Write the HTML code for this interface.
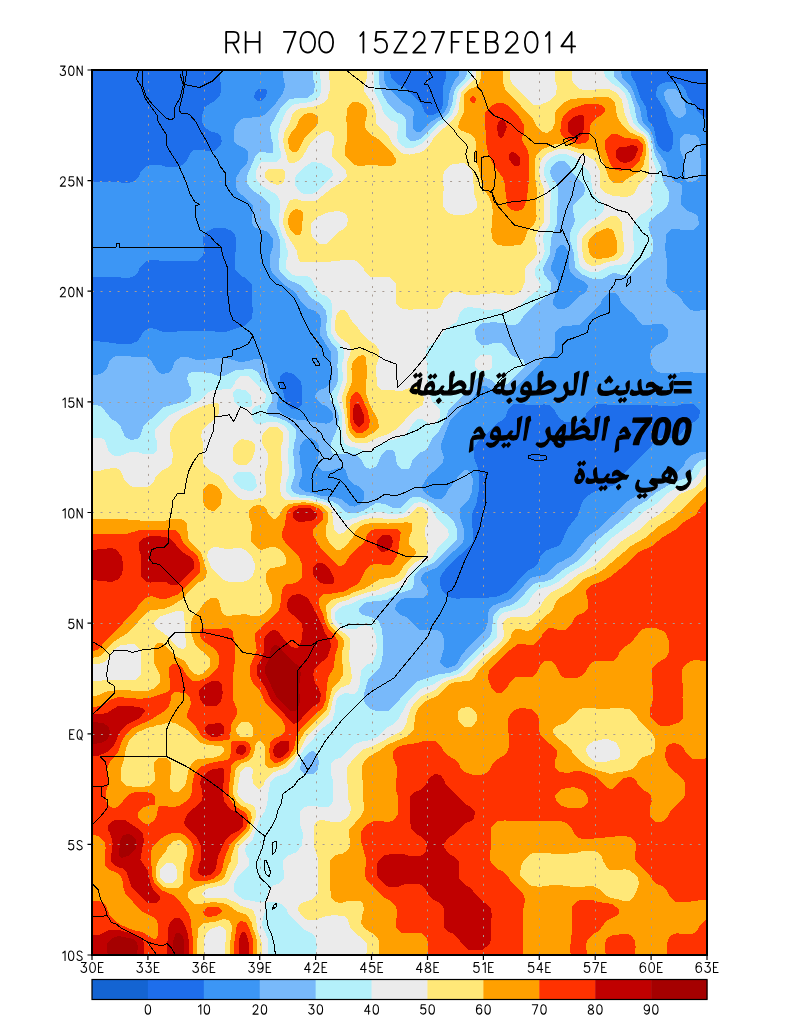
<!DOCTYPE html>
<html><head><meta charset="utf-8"><title>RH 700</title><style>
html,body{margin:0;padding:0;background:#fff;}
svg{display:block;}
path{vector-effect:non-scaling-stroke;}
</style></head><body>
<svg width="800" height="1024" viewBox="0 0 800 1024">
<rect width="800" height="1024" fill="#fff"/>
<g fill="none" stroke="#000" stroke-width="1.8" stroke-linejoin="round" stroke-linecap="round"><g vector-effect="non-scaling-stroke"><path transform="translate(226.15,31.90) scale(1.9762,2.0700)" d="M0,10 L0,0 L3.9,0 C5.4,0 6.3,1 6.3,2.6 C6.3,4.2 5.4,5.2 3.9,5.2 L0,5.2 M3.4,5.2 L6.3,10"/><path transform="translate(245.65,31.90) scale(1.9929,2.0700)" d="M0,0 L0,10 M7,0 L7,10 M0,4.8 L7,4.8"/><path transform="translate(283.90,31.90) scale(1.6714,2.0700)" d="M0,0 L7,0 L2.3,10"/><path transform="translate(300.40,31.90) scale(2.1000,2.0700)" d="M3.5,0 C1.2,0 0,2.2 0,5 C0,7.8 1.2,10 3.5,10 C5.8,10 7,7.8 7,5 C7,2.2 5.8,0 3.5,0 Z"/><path transform="translate(319.15,31.90) scale(1.9929,2.0700)" d="M3.5,0 C1.2,0 0,2.2 0,5 C0,7.8 1.2,10 3.5,10 C5.8,10 7,7.8 7,5 C7,2.2 5.8,0 3.5,0 Z"/><path transform="translate(359.65,31.90) scale(1.0500,2.0700)" d="M0.6,2 L2.2,1 L3.6,0 L3.6,10"/><path transform="translate(374.65,31.90) scale(1.7786,2.0700)" d="M6.3,0 L1,0 L0.5,4.3 C1.3,3.7 2.3,3.4 3.4,3.4 C5.5,3.4 7,4.9 7,6.8 C7,8.7 5.5,10 3.4,10 C1.9,10 0.7,9.4 0,8.4"/><path transform="translate(394.15,31.90) scale(1.9762,2.0700)" d="M0.2,0 L6.3,0 L0,10 L6.3,10"/><path transform="translate(412.90,31.90) scale(1.7786,2.0700)" d="M0.4,2.4 C0.7,0.9 1.9,0 3.5,0 C5.3,0 6.6,1.1 6.6,2.8 C6.6,4.2 5.8,5.1 4.4,6.2 L0.2,10 L7,10"/><path transform="translate(431.65,31.90) scale(1.7786,2.0700)" d="M0,0 L7,0 L2.3,10"/><path transform="translate(451.70,31.90) scale(1.9259,2.0700)" d="M5.4,0 L0,0 L0,10 M0,4.8 L3.6,4.8"/><path transform="translate(467.90,31.90) scale(1.8661,2.0700)" d="M5.6,0 L0,0 L0,10 L5.6,10 M0,4.8 L3.6,4.8"/><path transform="translate(485.90,31.90) scale(1.9590,2.0700)" d="M0,10 L0,0 L3.5,0 C5,0 5.8,0.9 5.8,2.4 C5.8,3.9 5,4.8 3.5,4.8 L0,4.8 M3.5,4.8 C5.1,4.8 6.1,5.8 6.1,7.4 C6.1,9 5.1,10 3.5,10 L0,10"/><path transform="translate(505.30,31.90) scale(1.8286,2.0700)" d="M0.4,2.4 C0.7,0.9 1.9,0 3.5,0 C5.3,0 6.6,1.1 6.6,2.8 C6.6,4.2 5.8,5.1 4.4,6.2 L0.2,10 L7,10"/><path transform="translate(524.90,31.90) scale(1.8143,2.0700)" d="M3.5,0 C1.2,0 0,2.2 0,5 C0,7.8 1.2,10 3.5,10 C5.8,10 7,7.8 7,5 C7,2.2 5.8,0 3.5,0 Z"/><path transform="translate(545.15,31.90) scale(1.1750,2.0700)" d="M0.6,2 L2.2,1 L3.6,0 L3.6,10"/><path transform="translate(561.40,31.90) scale(1.9571,2.0700)" d="M5.2,10 L5.2,0 L0,7 L7,7"/></g></g>
<defs><clipPath id="mc"><rect x="92" y="70" width="615" height="885"/></clipPath></defs>
<g clip-path="url(#mc)" shape-rendering="crispEdges">
<rect x="92" y="70" width="615" height="885" fill="#1e6eeb"/>
<path fill="#3c96f5" fill-rule="evenodd" d="M699,409 700,411 699,417 694,422 688,425 679,436 675,438 667,438 666,437 658,438 653,443 652,446 620,477 618,481 614,485 596,491 587,496 584,499 581,505 578,515 568,528 561,543 558,546 545,551 541,555 538,563 533,568 527,571 508,592 496,597 489,597 488,598 460,598 459,599 448,597 443,592 440,585 440,578 442,574 448,566 471,545 473,541 472,514 477,502 478,492 479,491 479,474 478,473 478,468 474,458 474,448 478,441 484,437 497,423 501,421 506,416 508,409 512,405 514,404 524,404 525,405 541,405 544,404 545,405 549,405 554,409 559,418 565,422 578,422 582,420 585,417 587,412 593,406 598,404 606,404 607,405 657,405 658,406 676,406 682,404 693,404ZM283,373 286,372 294,374 301,382 301,385 302,386 302,404 297,409 292,409 290,408 285,402 284,394 280,384 280,376ZM265,89 267,91 266,97 261,101 257,101 254,98 255,92 259,89ZM220,70 220,82 221,83 221,92 220,95 216,100 205,107 202,115 202,122 205,128 212,132 217,133 221,137 221,140 222,141 221,144 216,150 214,151 194,150 191,152 187,160 182,165 177,167 167,167 160,165 150,165 147,166 141,171 139,176 134,181 129,183 121,183 120,182 92,182 92,277 120,277 121,278 129,278 134,276 138,272 140,267 145,262 150,260 158,260 159,261 197,261 203,256 203,253 204,252 203,237 206,232 214,228 225,228 232,231 235,235 236,238 235,268 236,271 241,276 246,278 252,285 252,307 253,308 252,318 246,325 226,332 215,332 214,331 177,331 176,332 163,332 156,329 150,328 144,331 138,341 131,344 116,344 115,343 109,343 108,342 92,341 92,954 706,954 706,118 703,117 698,112 695,106 688,97 686,91 682,85 674,82 667,82 660,84 657,87 656,96 665,110 668,123 673,133 673,144 672,145 672,148 668,152 663,151 659,147 657,143 654,128 648,120 646,107 640,97 636,84 631,75 631,70 446,70 446,78 443,87 443,105 442,108 437,113 433,115 427,115 425,113 421,103 404,87 397,84 391,78 390,70Z"/>
<path fill="#78b9fa" fill-rule="evenodd" d="M305,439 311,438 317,442 319,446 318,466 322,471 330,471 338,468 343,468 346,471 349,480 353,484 358,486 363,490 364,492 364,499 361,504 354,507 353,506 350,506 341,499 334,497 321,496 313,493 306,492 299,487 299,483 302,476 302,469 301,468 299,451 300,450 300,446ZM560,245 564,245 568,251 569,254 569,268 571,273 575,277 583,281 588,286 587,290 583,294 578,297 568,307 564,309 558,309 553,305 553,300 558,289 558,281 551,270 551,266 555,256 556,250ZM685,134 683,135 680,139 680,150 684,160 685,180 688,182 692,182 697,180 701,174 700,142 699,139 695,135ZM668,89 666,90 664,93 665,99 674,115 676,117 680,118 684,116 686,113 685,103 680,93 675,89ZM283,70 283,78 284,79 285,87 283,93 274,106 264,115 260,117 244,118 240,120 236,125 234,131 234,141 236,144 246,149 248,152 248,160 247,163 240,171 236,178 236,187 238,192 246,198 253,206 252,223 254,227 268,232 273,239 273,247 270,255 270,267 273,274 283,284 292,290 297,295 301,302 307,308 315,311 320,316 321,319 320,335 331,352 331,363 330,366 332,373 332,379 331,382 325,388 318,391 316,393 315,397 321,404 326,406 332,412 333,414 333,419 331,422 325,424 324,423 317,423 316,422 306,421 305,420 298,420 288,417 282,414 277,408 278,396 277,395 277,392 269,378 267,365 266,363 261,359 254,359 249,361 240,362 226,358 215,358 214,359 207,359 206,360 197,360 187,357 181,357 175,361 172,369 168,373 162,374 157,371 151,360 146,357 116,356 113,357 110,360 107,368 102,373 96,375 92,375 92,954 706,954 706,452 700,452 691,455 686,460 684,465 679,471 664,481 647,489 625,503 616,513 610,517 597,530 588,536 577,550 570,557 561,562 557,563 548,573 544,575 533,577 528,580 520,590 510,599 492,606 490,608 488,613 488,621 485,631 469,646 461,656 458,662 454,666 447,668 444,667 440,662 444,648 444,639 442,634 439,631 436,630 420,630 418,629 408,618 399,614 395,610 396,604 402,599 405,598 423,598 427,595 428,591 427,588 422,582 421,579 422,575 424,573 436,568 451,553 456,550 463,542 464,539 464,529 460,517 460,509 469,499 472,492 473,479 470,472 467,470 464,470 458,476 457,479 448,490 446,494 441,499 435,499 426,494 423,491 422,486 429,475 436,470 443,462 444,457 441,448 441,444 450,421 452,418 474,397 477,391 482,386 486,386 496,392 501,392 502,393 510,392 514,390 518,385 536,368 542,360 550,356 554,352 555,350 555,333 556,331 563,326 571,326 572,325 579,325 581,324 587,317 600,305 603,298 609,293 615,293 619,297 622,304 628,310 634,314 638,321 642,325 662,324 667,328 668,330 668,336 667,338 663,342 655,346 652,349 650,354 651,364 656,371 661,373 679,373 680,372 706,373 706,310 694,311 689,309 684,304 681,298 676,294 673,293 668,288 666,282 666,279 667,278 667,259 666,258 666,252 665,251 666,235 667,233 672,229 679,229 680,230 693,230 695,229 699,224 698,217 695,214 686,210 682,206 681,204 682,186 679,183 675,182 670,177 667,170 666,163 656,149 653,136 650,130 644,124 642,120 640,108 636,100 634,93 631,87 622,77 621,70 459,70 459,75 455,80 451,88 449,95 448,105 445,111 439,117 429,123 427,126 420,132 416,132 413,128 413,116 414,115 414,112 412,108 404,103 387,87 384,80 384,70Z"/>
<path fill="#b4f0fa" fill-rule="evenodd" d="M313,751 316,753 318,757 318,760 319,761 318,769 317,771 313,774 305,774 303,773 300,769 301,763 306,755 309,752ZM92,405 92,954 706,954 706,459 699,461 695,465 691,473 686,478 674,482 657,492 646,501 636,507 622,520 595,542 586,553 576,562 563,570 552,579 543,582 539,582 532,585 518,601 511,605 499,609 495,613 493,617 492,631 490,636 467,659 459,669 450,673 440,674 418,681 410,688 390,710 387,711 376,711 369,708 366,705 364,701 364,694 368,680 370,677 379,669 382,661 382,656 383,655 383,636 382,635 382,629 379,622 377,620 371,617 363,615 359,612 359,609 363,604 367,602 387,600 397,594 412,589 414,584 414,577 416,573 420,569 433,563 456,541 457,539 457,529 454,522 451,518 432,503 420,497 413,497 409,499 401,508 393,508 385,504 376,503 363,511 356,513 348,513 343,510 340,506 332,501 329,501 312,496 300,495 294,493 292,491 291,486 295,475 293,449 294,448 294,443 296,438 296,430 292,425 286,421 276,417 270,416 267,414 267,410 272,401 272,394 268,387 263,382 258,372 252,369 236,370 224,376 218,376 211,373 206,373 205,372 192,372 189,373 187,378 189,385 191,388 191,396 183,402 164,407 160,410 153,418 148,421 144,425 140,436 137,439 131,440 125,437 120,425 115,421 112,420 102,407 97,405ZM614,70 467,70 467,74 465,78 457,86 454,92 452,105 449,112 441,120 436,123 420,139 415,141 410,141 406,137 406,120 405,118 401,114 396,112 389,105 383,95 379,83 379,70 313,70 313,78 315,84 314,93 307,98 294,98 293,99 290,99 288,100 280,109 270,127 270,132 271,133 271,137 273,143 273,152 272,153 259,152 256,155 247,176 247,183 252,190 264,198 270,205 270,218 277,231 280,241 280,257 279,258 279,268 280,271 287,279 300,285 307,292 310,297 321,304 326,311 326,315 327,316 326,331 327,332 327,335 331,342 337,349 338,352 338,363 337,364 337,368 338,369 338,381 336,386 330,395 330,399 336,407 339,416 338,427 331,443 331,450 333,454 345,454 346,453 355,454 361,459 365,467 370,469 375,467 377,465 382,454 387,450 392,450 395,453 397,465 401,469 408,469 410,467 413,459 419,453 424,451 428,447 433,437 439,431 445,420 449,409 462,397 468,390 472,383 476,379 481,377 484,377 491,380 497,385 502,386 507,384 523,369 525,366 524,360 515,357 510,354 506,347 501,343 493,343 488,345 482,345 480,344 476,339 475,331 476,328 480,324 483,323 496,322 497,323 503,323 509,325 515,325 519,323 525,314 534,305 543,299 549,293 551,289 551,283 544,274 543,268 550,254 551,238 557,224 558,188 556,183 552,178 550,172 552,166 555,163 559,161 564,161 569,165 573,174 583,183 585,188 585,191 583,196 580,198 573,206 573,213 574,214 575,221 570,233 570,240 574,254 575,267 581,274 593,279 602,279 613,273 616,273 621,275 629,275 631,274 643,261 650,257 653,251 653,240 648,227 649,226 649,223 655,216 664,210 667,206 669,201 669,192 663,181 661,167 655,155 651,138 649,134 639,124 636,117 635,108 630,94 627,89 615,78 614,76Z"/>
<path fill="#ebebeb" fill-rule="evenodd" d="M233,476 238,472 250,472 255,477 257,486 253,491 248,491 242,489 234,482ZM236,389 245,390 251,395 252,405 250,407 240,407 234,402 233,392ZM92,438 92,954 268,954 268,939 262,925 263,917 265,912 265,907 267,902 276,902 281,904 287,910 288,913 296,922 305,930 311,933 315,937 316,939 316,944 317,945 316,954 706,954 706,466 702,468 696,478 689,484 678,487 666,494 656,504 642,513 633,522 613,537 583,565 568,574 558,582 550,586 539,589 533,594 529,601 524,606 515,610 505,612 500,615 497,621 497,637 496,639 476,657 462,672 456,675 444,678 434,684 423,688 418,691 409,700 399,718 392,725 388,727 377,737 367,741 363,741 354,744 342,757 334,760 331,764 331,774 333,780 333,801 331,805 328,807 308,806 303,808 300,812 300,824 303,834 302,845 297,852 287,856 284,859 283,862 284,878 283,880 278,884 274,885 270,888 268,891 267,899 263,902 255,902 254,901 245,900 238,896 234,892 234,884 238,876 249,865 249,859 246,854 245,850 246,847 253,839 259,821 265,811 267,805 267,801 268,800 268,792 269,791 270,783 275,777 287,773 294,766 306,746 314,738 319,731 333,720 334,713 335,712 335,705 336,704 336,701 339,696 345,693 348,693 349,694 354,694 356,693 358,690 360,683 361,670 366,665 371,663 373,661 376,654 377,644 376,643 376,636 373,629 371,627 366,625 361,626 356,629 347,629 340,626 335,619 335,613 336,611 343,606 351,604 361,599 371,596 381,595 405,585 407,583 412,571 417,566 429,560 433,556 439,546 448,538 449,535 448,530 436,517 431,508 426,504 421,502 414,503 404,513 401,514 389,514 382,512 375,512 374,513 370,513 366,515 363,515 356,518 353,518 349,520 343,520 339,516 336,509 333,506 325,502 311,499 310,498 299,498 298,497 292,497 290,496 286,491 286,484 289,474 289,465 288,464 289,432 285,426 277,422 267,422 262,424 256,424 254,422 252,416 252,410 254,407 262,404 265,401 266,395 255,382 248,376 241,376 239,377 235,381 235,383 232,388 230,389 213,390 209,392 199,401 168,416 155,430 155,437 157,441 157,450 156,452 153,454 144,454 137,452 130,452 120,456 115,456 112,455 109,452 105,440 101,438ZM479,356 475,361 475,367 478,370 482,370 483,371 489,370 492,367 492,357 490,355 481,355ZM332,170 333,176 316,192 312,194 304,194 300,192 295,185 295,178 297,174 303,168 312,162 321,163ZM604,70 472,70 472,75 470,79 460,88 457,94 456,104 452,114 442,124 437,127 423,143 413,148 406,148 399,143 397,138 398,125 395,122 390,120 385,115 382,109 382,107 374,91 374,70 320,70 320,79 321,80 321,92 320,95 315,100 311,102 295,104 291,106 287,110 280,125 279,132 278,133 278,140 279,141 279,146 281,152 281,157 277,162 262,162 260,163 256,171 256,178 258,182 262,186 274,193 278,197 280,201 279,225 283,237 285,240 287,250 288,251 288,256 286,261 286,268 287,270 293,275 296,276 307,276 311,278 318,291 323,295 326,296 331,301 332,304 331,333 336,341 343,348 344,351 344,357 342,364 343,380 337,398 342,414 342,436 345,444 351,447 354,447 368,452 371,452 382,443 399,438 406,434 414,422 418,419 422,419 431,425 435,424 440,417 440,410 439,408 433,403 429,394 429,389 427,383 427,362 426,361 426,351 428,347 431,344 438,340 444,331 448,327 457,322 460,313 463,309 468,307 472,307 473,308 479,308 486,310 499,309 506,311 512,311 516,309 525,300 540,288 541,285 535,275 535,270 536,267 542,259 545,251 544,249 544,244 543,243 543,236 550,223 550,200 551,199 551,191 544,175 544,168 547,161 552,157 559,154 566,154 575,158 589,172 591,176 591,183 592,184 593,194 604,204 604,209 603,211 597,217 588,221 581,228 577,236 577,251 578,252 579,263 582,268 590,272 598,272 610,266 626,264 630,260 634,252 634,242 633,241 633,226 634,225 634,222 640,215 646,212 653,204 653,199 651,195 651,187 655,180 656,170 652,157 651,146 648,137 644,132 639,129 634,124 631,116 628,101 625,94 618,87 611,83 606,78 604,73Z"/>
<path fill="#ffe878" fill-rule="evenodd" d="M167,863 172,863 176,867 177,870 177,878 172,883 166,883 160,878 160,870 161,868ZM586,749 588,745 594,741 601,740 602,739 608,739 615,742 617,744 620,750 620,757 617,759 607,761 606,762 596,762 589,757 586,751ZM159,617 176,611 182,611 184,613 186,646 183,649 178,648 173,643 169,637 155,627 154,622ZM208,551 211,548 214,547 223,548 224,549 241,548 245,550 252,557 255,564 255,568 253,575 248,580 242,582 229,582 223,580 211,567 207,557ZM706,474 701,481 694,488 678,495 660,514 650,520 639,530 622,541 594,566 579,574 562,587 550,593 545,598 541,605 531,615 527,617 512,617 506,619 503,623 504,636 501,642 480,660 466,675 449,680 443,683 435,690 420,697 415,702 411,708 407,719 407,722 404,728 400,732 373,746 364,749 354,758 348,766 347,769 348,799 351,807 351,810 349,815 345,819 340,822 330,822 329,821 320,820 317,821 314,826 314,846 318,859 318,893 317,895 311,900 304,902 299,905 298,910 303,917 308,920 317,920 320,918 326,916 330,916 331,915 344,916 348,920 351,929 366,942 367,944 367,952 366,954 706,954ZM242,439 239,440 234,446 233,449 233,460 235,463 239,465 246,465 251,461 253,457 255,450 255,445 251,441ZM217,403 209,404 198,408 183,416 175,423 170,433 170,444 173,453 172,463 169,467 161,471 156,476 154,481 149,486 146,487 133,487 129,485 125,481 121,472 118,469 115,468 110,468 109,469 105,469 99,471 92,471 92,664 98,664 104,662 108,658 112,651 121,645 133,644 136,645 141,651 141,674 137,679 135,680 102,680 101,681 92,681 92,954 204,954 204,940 207,932 211,929 219,926 223,927 226,931 225,954 262,954 262,943 257,929 256,917 253,910 241,906 237,903 226,898 206,898 201,894 206,889 224,885 229,880 238,863 238,850 239,847 250,835 253,829 253,826 256,817 256,811 255,808 252,805 244,802 238,795 237,790 238,789 238,783 239,782 240,773 244,768 246,767 251,767 253,770 253,773 252,774 253,783 257,788 259,789 263,786 266,779 272,773 285,768 293,761 298,754 306,738 310,733 328,716 331,709 333,698 336,692 340,688 350,684 352,678 350,663 349,662 350,639 346,634 339,630 334,625 331,618 331,610 332,608 336,604 340,602 348,600 351,598 365,593 378,590 383,587 385,587 391,584 394,584 400,581 405,576 409,568 414,563 422,559 427,554 428,551 428,543 425,536 425,528 428,522 428,513 427,511 422,507 417,507 408,516 403,518 398,518 397,519 369,518 368,519 365,519 353,524 349,527 344,533 338,534 334,530 332,511 327,506 317,502 309,501 308,500 286,500 281,496 281,493 280,492 280,483 281,482 281,476 282,475 281,446 283,441 283,433 282,431 277,427 270,427 268,428 264,432 262,436 262,443 268,454 268,463 265,473 266,494 262,498 254,499 253,500 243,500 237,497 230,490 224,481 218,475 210,471 204,465 203,462 203,442 202,441 201,434 202,433 202,430 217,417 219,413 219,405ZM341,310 338,312 336,316 336,319 335,320 335,330 338,336 346,342 350,346 351,349 350,355 347,362 347,382 342,396 342,402 343,403 344,414 345,415 346,433 349,439 353,442 356,443 367,443 379,437 386,435 397,429 413,411 423,405 424,398 422,392 418,388 415,387 409,388 402,391 395,391 394,390 381,390 377,386 376,367 379,358 379,350 375,344 368,340 362,334 358,328 353,323 348,314 344,310ZM618,217 616,216 611,216 607,218 599,224 591,228 583,237 582,240 582,252 583,253 583,257 586,263 592,266 600,265 607,262 617,260 622,256 624,251 623,232 622,231 622,223ZM344,213 347,216 348,219 347,225 342,230 337,233 328,243 326,244 320,244 313,238 311,233 311,225 312,222 317,217 329,212 333,212 334,211 339,211ZM265,172 265,177 267,180 271,183 277,185 283,183 285,178 285,172 284,170 282,169 269,169ZM453,164 464,163 466,164 472,171 473,174 474,193 477,202 477,207 472,213 465,214 464,215 454,215 447,212 443,206 443,191 444,190 444,187 443,186 443,175 445,170 449,166ZM283,223 287,235 297,251 298,258 300,262 330,262 331,261 339,261 340,260 353,260 356,261 363,267 365,272 370,277 389,277 395,282 396,284 396,303 399,307 403,309 412,310 413,309 436,309 439,308 441,306 445,297 448,294 453,292 458,292 468,295 479,295 480,294 489,294 490,293 503,294 504,295 514,295 518,293 522,289 525,282 525,270 526,267 529,263 533,260 537,254 537,246 536,245 535,238 538,231 544,222 544,189 540,179 540,174 539,173 540,163 543,157 548,153 558,149 566,149 587,156 592,159 596,163 600,171 600,187 604,192 613,196 626,197 632,195 635,192 639,184 647,176 649,172 649,149 648,148 648,143 646,138 642,134 633,129 629,124 625,115 622,100 617,93 609,89 583,90 578,88 573,82 572,79 572,70 555,70 555,80 557,87 556,94 549,101 540,105 534,105 532,104 513,85 510,79 510,70 476,70 476,77 475,79 467,86 461,93 460,101 459,102 459,109 457,114 452,121 435,136 430,144 423,151 419,153 410,154 409,155 408,154 404,154 400,152 393,145 388,135 382,130 376,123 376,114 375,113 374,106 364,91 364,86 367,78 367,70 329,70 330,90 329,91 328,98 323,103 319,105 312,107 301,108 295,111 292,115 290,122 284,133 283,143 284,144 284,148 287,156 287,159 289,163 294,163 298,161 303,156 311,142 317,136 326,131 331,132 334,137 334,144 332,149 332,156 333,158 343,167 346,171 347,176 341,183 332,188 317,200 314,201 302,201 296,199 290,200 284,213Z"/>
<path fill="#ffa000" fill-rule="evenodd" d="M521,866 524,860 530,854 533,853 568,854 569,853 576,853 583,851 594,851 597,852 602,857 603,861 608,869 610,870 622,870 623,869 629,870 636,875 638,878 639,883 637,890 633,898 629,901 622,901 621,900 611,898 605,895 599,889 593,886 585,886 584,887 570,887 569,886 563,886 562,885 549,885 548,886 542,886 541,887 532,886 528,884 521,877 520,874ZM180,840 186,845 187,848 187,856 184,863 184,870 183,871 183,883 179,888 167,888 164,887 158,882 156,877 156,867 159,860 166,851 168,846 173,841ZM240,723 242,722 248,722 252,726 253,728 253,735 251,737 241,737 237,734 236,729ZM224,749 224,752 219,756 212,758 198,759 194,761 189,768 186,783 184,787 178,792 173,792 170,788 171,763 170,761 166,758 159,758 155,761 154,764 155,780 154,782 149,786 145,786 144,787 132,787 131,786 127,786 122,782 121,779 121,768 124,760 126,748 130,739 138,732 150,727 153,727 157,725 160,725 169,722 175,723 189,731 199,742 207,745 221,746ZM553,730 556,726 566,723 578,710 583,708 595,708 596,709 623,708 624,709 629,709 636,715 639,721 652,733 655,739 655,748 654,751 650,755 643,757 640,759 637,764 632,769 627,771 623,771 622,772 618,772 611,774 593,769 587,766 579,760 573,754 571,749 554,735ZM461,708 468,707 471,708 476,713 477,715 477,720 473,726 471,727 465,727 460,723 458,719 458,711ZM183,520 181,519 170,519 165,521 140,521 139,520 128,520 127,519 92,519 92,658 101,656 112,643 129,632 147,612 151,610 164,609 173,605 184,598 189,591 197,583 202,581 206,577 207,572 202,555 200,551 190,542 188,538 187,524ZM411,523 404,522 403,523 389,523 388,524 386,523 369,523 368,524 365,524 359,527 356,530 353,537 345,547 340,550 337,550 330,544 326,536 326,526 328,522 328,513 327,511 321,506 312,503 306,503 305,502 289,504 283,508 279,516 275,519 273,519 268,514 267,510 263,506 258,505 252,507 249,511 249,517 252,525 252,530 251,531 251,541 252,543 258,549 261,550 271,547 275,547 279,549 284,554 286,558 286,563 284,565 279,567 271,568 268,570 266,574 266,582 272,595 272,603 271,606 263,614 259,616 251,616 245,614 227,616 222,613 219,601 216,598 211,598 204,603 200,609 194,615 191,622 191,632 195,645 200,650 204,652 210,659 210,666 204,673 199,675 194,674 191,671 185,661 175,656 164,644 162,643 157,643 154,648 154,663 160,675 160,682 155,688 148,691 114,690 113,691 108,691 96,696 92,696 92,954 197,954 197,938 198,937 198,929 199,927 204,923 214,922 223,919 229,920 232,926 231,939 230,940 230,954 257,954 257,940 256,939 256,936 252,926 252,923 247,915 238,912 228,905 223,903 210,902 209,903 203,903 202,904 194,904 189,899 188,897 188,892 191,889 203,885 217,882 221,880 225,876 229,864 231,861 231,858 235,845 237,842 248,832 250,828 251,819 252,818 251,813 247,808 242,806 237,802 233,794 234,777 235,776 235,771 237,767 240,764 248,761 253,756 255,750 255,746 258,741 260,741 264,744 265,747 265,764 268,768 278,767 286,763 295,753 298,747 299,742 304,733 327,709 332,689 340,680 343,675 342,652 344,646 344,641 342,637 332,628 329,623 327,617 327,613 326,612 326,606 327,604 331,600 349,595 354,592 364,589 380,579 394,577 399,574 405,564 413,557 416,553 415,549 411,547 409,544 409,538 412,531 412,524ZM706,487 696,495 681,511 676,514 672,518 659,526 645,538 631,546 604,569 598,573 584,579 570,592 559,598 556,602 552,611 544,617 532,630 526,631 521,629 515,629 512,632 511,637 508,642 480,668 473,679 469,681 455,682 449,684 437,696 426,701 422,704 418,709 415,716 414,729 408,736 387,745 379,751 368,757 365,760 362,766 362,780 363,781 363,792 362,793 363,794 364,810 361,816 349,830 350,846 348,850 342,854 339,854 334,856 330,861 330,891 331,892 331,897 335,902 341,903 348,901 360,901 363,904 364,910 363,911 361,923 365,929 372,933 378,939 379,941 379,954 706,954ZM209,484 204,488 203,491 203,501 205,507 208,510 214,511 216,510 221,504 222,494 220,490 216,486 212,484ZM363,355 358,356 354,360 352,364 352,367 351,368 352,371 352,382 346,397 346,408 347,409 348,427 351,434 356,438 364,438 373,433 379,427 378,420 369,403 366,393 367,366 366,365 366,358ZM611,229 607,228 595,233 590,238 588,244 588,248 589,249 589,252 592,257 597,259 607,258 613,256 617,252 617,241 614,232ZM296,209 291,212 288,219 288,224 291,231 295,235 300,235 302,230 303,213 302,211ZM312,113 308,113 303,115 300,118 296,127 291,133 288,139 289,148 292,152 296,152 299,149 305,137 316,126 318,123 318,116ZM351,103 347,109 347,115 346,116 346,122 347,123 347,141 345,146 345,155 346,157 353,164 358,166 364,166 365,165 390,166 393,165 396,162 396,159 393,154 380,140 370,134 366,129 365,126 366,117 367,116 367,110 366,108 362,104 358,102 353,102ZM464,95 464,112 459,122 458,128 460,130 470,134 475,139 476,142 475,158 479,169 482,186 489,197 492,204 492,209 493,210 493,214 492,215 492,227 491,228 492,238 494,242 498,245 501,245 502,246 513,246 514,245 520,245 522,244 525,239 527,232 534,224 536,220 536,217 537,216 536,213 537,188 536,187 536,181 535,180 535,160 537,154 541,150 555,144 565,144 579,149 592,149 596,151 600,156 605,166 609,179 614,183 622,183 627,179 640,171 644,164 645,156 646,155 646,145 644,140 641,137 629,132 622,125 617,116 615,103 612,99 608,97 577,98 576,99 571,99 565,102 557,109 555,113 555,123 552,130 547,133 542,132 537,127 532,117 527,113 516,100 506,91 503,83 503,70 481,70 481,78 479,83 475,87 468,90Z"/>
<path fill="#ff3200" fill-rule="evenodd" d="M607,938 605,944 605,952 606,954 635,954 635,949 636,947 635,946 635,941 632,936 628,934 619,934 618,935 613,935ZM241,921 238,923 236,929 235,940 234,941 234,954 253,954 253,940 250,930 247,924 245,922ZM706,920 700,925 698,929 694,933 691,934 680,934 677,933 670,936 667,943 667,954 706,954ZM203,911 204,915 208,917 216,916 222,912 222,910 218,907 208,907ZM619,909 612,904 598,902 593,900 580,900 576,902 572,907 572,934 571,935 571,943 570,944 570,952 571,954 587,954 586,945 588,939 593,934 599,931 606,921 616,916 619,913ZM555,796 556,794 562,789 574,787 582,790 586,794 588,798 588,802 583,807 580,808 569,808 562,806 557,802ZM361,832 361,841 366,859 365,876 367,881 372,885 383,897 389,900 395,905 397,910 396,926 397,929 402,933 421,933 426,937 428,942 428,954 523,954 523,908 524,907 525,899 523,893 512,883 507,875 502,871 497,869 491,862 490,859 490,850 491,849 491,829 492,826 496,822 498,821 503,821 504,820 507,821 560,821 566,823 572,829 575,835 577,837 582,839 593,839 594,838 604,838 605,837 614,837 615,836 626,836 627,837 630,837 634,840 636,844 635,859 637,863 647,872 655,883 662,886 667,891 670,897 674,901 676,902 690,902 691,901 697,901 698,900 706,900 706,758 704,759 693,759 686,753 684,749 680,745 675,743 669,744 666,747 665,757 669,767 683,779 685,783 685,795 683,799 671,810 668,816 663,821 661,822 656,822 654,821 650,816 650,807 652,800 651,796 647,792 644,791 638,785 637,782 633,778 630,777 624,778 621,780 613,789 610,789 606,787 598,778 592,775 580,771 574,771 568,773 559,772 555,768 555,760 557,756 557,751 552,745 547,742 541,736 539,730 539,719 537,714 531,709 520,708 514,710 511,713 508,719 509,747 507,752 503,756 496,760 493,763 490,769 486,773 481,775 473,775 464,772 461,769 459,764 454,759 447,755 443,750 442,747 435,741 423,741 418,743 403,745 396,748 393,752 393,758 397,767 396,790 398,797 398,814 394,820 389,822 384,822 383,821 374,821 366,825ZM230,629 227,628 222,628 221,629 206,629 203,628 200,630 200,636 203,641 212,647 217,652 219,656 219,664 217,669 208,677 199,681 193,681 188,677 181,666 177,664 172,664 169,667 170,689 167,692 149,698 143,698 142,699 118,697 110,700 102,706 92,707 92,835 95,835 100,837 105,843 105,847 106,848 105,849 105,865 108,869 117,873 121,877 123,882 123,886 125,893 141,911 153,917 157,921 158,924 158,935 157,938 154,939 142,932 133,930 121,925 115,921 110,916 106,906 103,903 99,901 92,901 92,954 193,954 193,937 192,936 191,920 189,914 181,903 173,895 161,890 154,882 152,875 152,867 151,866 151,851 153,846 159,840 165,836 172,833 180,833 184,835 191,842 194,850 193,860 190,869 190,876 194,881 206,881 213,879 220,874 222,870 225,857 231,843 246,829 248,823 248,818 246,813 235,806 230,799 229,796 229,782 230,781 230,773 231,772 231,766 235,761 243,759 249,755 251,749 250,745 247,742 244,741 232,741 231,742 231,753 230,754 230,757 227,760 210,763 200,767 196,771 194,775 193,782 192,783 192,792 190,797 185,802 179,806 176,806 175,807 160,806 158,807 157,815 154,821 149,824 146,824 142,822 138,818 138,812 144,807 150,805 154,805 155,804 155,797 151,793 148,793 147,792 136,792 129,794 118,807 113,808 109,806 106,801 106,791 108,786 108,774 107,773 107,769 110,762 118,752 122,741 126,734 133,728 152,719 166,710 169,706 171,699 171,695 175,692 185,693 190,698 191,704 187,714 187,717 196,727 202,737 210,741 222,741 223,740 228,740 230,739 231,725 237,714 237,709 233,700 233,672 234,671 234,664 235,663 235,642 234,641 233,632ZM175,530 140,530 126,534 92,534 92,650 93,651 97,650 101,647 103,643 122,625 125,620 135,611 140,603 145,598 151,596 160,599 166,599 179,594 186,586 199,574 200,572 200,563 198,557 194,552 189,549 184,544 179,533ZM398,529 375,529 370,531 367,534 366,539 363,544 357,548 351,554 344,565 339,566 321,549 313,535 313,530 323,519 323,513 320,509 310,505 298,505 297,506 294,506 288,510 286,515 285,525 282,532 282,537 286,544 299,557 302,564 302,577 298,582 291,584 287,584 284,586 282,590 280,607 278,612 256,632 255,634 255,642 256,643 256,648 257,650 250,666 250,676 253,683 260,691 266,704 281,718 285,726 285,731 280,736 274,738 270,743 269,753 270,754 270,759 275,763 280,762 287,758 290,755 294,748 297,734 304,725 315,714 322,709 326,700 327,682 328,681 328,678 334,667 335,656 338,646 338,641 335,636 329,630 325,622 324,617 319,605 319,599 320,597 324,594 331,594 332,593 343,592 356,585 360,581 366,569 371,565 374,564 390,565 392,564 397,556 398,549 399,548 399,541 400,540 400,534 401,533ZM706,502 701,506 697,513 694,516 684,522 675,530 663,537 652,546 639,552 625,565 610,577 603,581 591,585 586,591 587,599 588,600 588,608 583,613 576,616 570,626 565,630 558,630 553,628 549,628 543,633 542,636 535,644 533,645 518,644 506,653 489,670 488,679 492,689 497,693 501,693 507,688 510,682 515,677 532,677 536,674 541,664 545,661 551,661 555,664 561,676 565,678 577,678 581,676 586,671 590,664 595,661 613,661 618,656 620,651 624,647 631,643 641,630 646,628 656,628 663,631 666,634 669,641 669,652 667,656 664,659 657,663 652,669 653,700 650,709 650,716 657,724 661,726 669,726 680,722 683,718 683,699 682,698 683,696 683,684 682,683 682,670 684,666 691,661 694,660 706,661ZM355,392 352,395 350,400 350,421 353,430 357,433 362,433 367,430 369,427 370,420 369,419 368,411 361,396 358,392ZM610,135 605,141 605,149 610,163 613,168 616,170 621,171 622,170 626,170 632,168 635,166 640,160 640,158 642,155 642,152 643,151 643,145 642,143 637,139 625,138 617,134 612,134ZM603,106 598,104 586,104 573,108 567,112 563,117 561,122 561,128 560,129 561,135 564,138 577,144 585,143 589,139 590,126 592,122 596,118 602,115 605,111 605,109ZM497,103 491,106 486,111 485,114 486,145 487,146 488,153 494,166 503,178 505,184 505,192 506,193 507,205 510,209 515,211 518,211 523,209 525,205 527,198 527,193 528,192 528,184 529,183 529,155 528,154 528,151 522,140 522,137 524,133 524,125 519,117 509,106 503,103ZM472,96 470,98 470,100 472,103 475,103 476,99 474,96Z"/>
<path fill="#c00000" fill-rule="evenodd" d="M242,932 239,939 239,954 249,954 249,943 248,942 248,939 246,934 244,932ZM92,935 92,954 143,954 144,953 144,943 143,941 139,937 133,934 119,930 109,930 99,935ZM174,918 171,921 168,928 167,954 189,954 189,940 188,939 188,935 186,928 183,922 179,918ZM111,822 108,826 108,830 110,833 112,839 112,843 113,844 112,846 112,852 111,853 111,861 114,865 120,868 122,868 127,873 131,886 146,902 148,903 156,903 160,900 160,897 153,889 150,882 148,871 140,859 141,858 141,853 142,852 143,843 144,842 143,834 137,828 125,820 115,820ZM435,774 429,778 426,784 420,790 414,792 411,795 410,798 410,824 411,825 411,828 417,835 420,836 425,840 427,844 426,851 422,855 419,856 409,856 404,854 389,854 388,855 385,855 383,856 378,862 377,865 377,875 380,880 384,884 389,887 398,887 405,884 419,884 421,885 426,890 429,896 432,899 438,902 443,907 444,909 444,927 447,931 454,934 467,949 469,950 482,950 489,945 491,940 491,918 492,917 491,909 487,904 483,902 476,895 471,888 465,885 460,880 459,878 459,862 455,857 449,854 444,847 444,844 448,838 456,833 464,824 471,821 474,818 475,812 471,807 465,804 459,797 445,784 445,782 441,775ZM222,768 213,769 207,772 202,777 200,783 202,790 202,795 203,796 202,797 202,800 198,805 190,811 187,815 184,822 185,826 197,838 201,846 201,860 199,864 198,872 200,875 203,876 210,875 214,872 216,868 218,856 225,841 230,835 238,831 243,826 243,818 240,814 230,809 224,801 224,798 223,797 224,770ZM240,745 237,747 236,752 237,754 242,755 246,752 246,747 243,745ZM288,741 281,741 274,746 273,752 275,757 279,758 282,757 287,753 289,750 289,742ZM205,728 206,733 212,737 217,737 222,735 224,733 224,726 220,723 209,724 207,725ZM144,709 139,707 134,707 133,706 118,706 107,713 104,713 103,714 92,714 92,756 98,756 107,752 114,745 121,730 126,725 140,718 145,711ZM219,681 212,681 204,685 200,689 199,692 200,699 205,706 216,706 221,702 223,692 222,691 222,685ZM300,594 292,595 289,598 287,604 287,607 289,612 296,617 302,624 303,631 302,632 302,639 300,645 297,648 291,647 285,641 278,631 273,630 269,632 265,637 264,640 264,652 262,658 257,666 257,675 265,687 271,700 274,704 284,713 287,718 294,724 300,721 305,714 312,707 318,704 320,701 321,694 318,687 315,683 313,673 314,672 314,669 320,663 326,659 328,656 331,646 330,640 325,633 323,627 316,613 314,611 314,609 308,598ZM317,563 314,566 313,569 313,574 315,578 319,582 324,584 332,584 334,583 334,578 330,570 324,564 322,563ZM117,550 112,548 92,550 92,580 112,582 119,579 122,574 122,571 123,570 123,562 122,561 122,557ZM142,539 139,543 139,550 141,555 141,575 142,578 146,582 149,582 150,583 152,582 166,582 171,585 177,585 193,570 194,568 194,562 192,558 181,551 171,539 166,537 161,537 160,536 150,536ZM389,535 383,535 381,536 377,541 377,547 378,549 382,552 388,551 392,546 393,541 392,538ZM293,512 293,518 296,521 299,522 310,521 313,520 317,516 317,513 310,508 299,508ZM355,404 353,409 353,418 355,424 358,427 360,427 364,422 364,415 360,406 358,404ZM511,152 509,154 509,159 514,166 518,166 520,164 520,158 516,153ZM637,146 631,145 625,147 619,147 616,150 616,157 620,162 626,163 631,161 635,157 638,150ZM503,120 500,120 499,121 497,127 498,135 499,137 501,138 503,137 507,127 505,121ZM582,115 579,115 572,118 568,123 568,131 571,135 575,137 580,137 583,133 583,130 584,129 584,117Z"/>
<path fill="#a50000" fill-rule="evenodd" d="M107,944 107,952 108,954 137,954 138,946 137,943 133,939 119,936 112,938ZM176,933 173,941 173,954 184,954 184,940 183,937 180,933ZM129,834 123,835 120,841 119,855 120,857 122,858 130,855 136,848 136,840 133,836ZM92,722 92,744 101,743 105,741 108,738 110,733 109,727 103,723ZM274,645 271,649 269,659 265,667 265,673 277,698 291,711 295,711 298,708 300,701 300,695 299,694 299,683 300,682 300,676 301,675 300,668 298,665 293,662 285,654 279,646Z"/>
</g>
<path stroke="#a89c94" stroke-width="1" stroke-dasharray="2 6.54" stroke-dashoffset="-2.5" fill="none" d="M148.5,70V955M204.5,70V955M260.5,70V955M316.5,70V955M372.5,70V955M427.5,70V955M483.5,70V955M539.5,70V955M595.5,70V955M651.5,70V955"/><g stroke="#a89c94" stroke-width="1" stroke-dasharray="2 6.54" fill="none"><path stroke-dashoffset="0.6" d="M92,181.5H707"/><path stroke-dashoffset="0" d="M92,291.5H707"/><path stroke-dashoffset="0" d="M92,402.5H707"/><path stroke-dashoffset="0" d="M92,512.5H707"/><path stroke-dashoffset="0" d="M92,623.5H707"/><path stroke-dashoffset="-0.4" d="M92,734.5H707"/><path stroke-dashoffset="0" d="M92,844.5H707"/></g>
<g clip-path="url(#mc)" fill="none" stroke="#000" stroke-width="1" stroke-linejoin="round" shape-rendering="crispEdges">
<path d="M139.0,70.0 136.4,79.0 141.0,86.0 145.0,98.0 151.6,107.6 158.0,116.4 157.6,120.4 162.0,128.0 166.0,134.0 166.0,144.0 169.0,150.0 178.0,164.0 186.0,182.0 190.0,194.0 195.0,202.0 200.0,204.4 195.0,206.0 196.0,218.0 200.0,230.0 210.0,236.0 215.0,242.0 221.0,247.0 223.0,256.0 226.0,264.0 228.0,269.0 227.0,280.0 228.0,296.0 230.0,312.0 233.0,320.0 238.0,323.0 244.0,328.0 250.0,332.0 253.0,336.0 256.0,344.0 259.0,352.0 262.0,360.0 264.0,368.0 266.0,378.0 269.0,388.0 272.0,394.0 276.0,392.0 279.0,396.0 282.0,400.0 288.0,404.0 296.0,408.0 300.0,410.0 304.0,414.0 307.0,419.0 310.0,424.0 313.0,427.0 316.0,428.0 318.5,431.0 321.0,433.0 322.0,435.0 323.5,439.0 326.0,442.0 329.0,445.0 332.0,448.0 334.0,450.0 336.0,452.0 337.0,454.0 339.0,458.0 342.0,462.0 343.0,466.0 341.0,469.0 338.0,470.0 333.0,473.0 330.0,474.0 328.0,478.0 332.5,477.5 340.0,480.0 345.0,485.0 350.0,492.5 357.5,502.5 367.5,502.5 377.5,499.0 385.0,494.0 395.0,496.0 405.0,492.5 415.0,487.5 425.0,487.5 435.0,484.0 445.0,485.0 455.0,481.0 465.0,476.0 475.0,470.0 487.5,472.5 485.0,482.5 486.0,502.5 482.5,515.0 480.0,527.5 475.0,540.0 470.0,550.0 465.0,560.0 460.0,572.5 455.0,585.0 452.0,590.0 448.0,592.0 446.0,602.0 440.0,614.0 432.0,626.0 428.0,636.0 420.0,646.0 412.0,656.0 402.0,668.0 394.0,678.0 384.0,684.0 374.0,690.0 366.0,696.0 358.0,704.0 352.0,710.0 342.0,720.0 334.0,730.0 326.0,740.0 320.0,750.0 316.0,756.0 312.0,764.0 308.0,770.0 304.0,776.0 298.0,780.0 294.0,786.0 288.0,790.0 283.0,794.0 281.0,804.0 278.0,810.0 276.0,818.0 272.0,826.0 268.0,832.0 265.0,836.5 263.4,843.0 261.8,849.5 258.5,857.6 256.0,864.0 257.7,872.3 260.2,878.0 266.7,883.7 270.7,888.5 268.3,895.0 265.9,901.5 265.9,908.0 266.7,917.8 268.3,927.6 271.5,934.0 274.0,943.8 275.6,956.0"/>
<path d="M142.0,70.0 143.0,78.0 142.0,84.0 146.0,96.0 152.0,104.0 160.0,112.0 166.0,118.0 171.0,120.0 174.0,118.0 175.0,107.0 180.0,98.0 184.0,82.0 182.0,70.0"/>
<path d="M187.0,70.0 185.0,82.0 183.0,94.0 179.0,110.0 181.0,113.0 186.0,113.0 190.0,115.0 196.0,122.0 200.0,130.0 207.0,142.0 213.0,154.0 217.0,159.0 220.0,166.0 226.0,174.0 225.0,184.0 230.0,192.0 234.0,197.0 242.0,201.0 248.0,204.0 254.0,214.0 256.0,222.0 260.0,230.0 262.0,238.0 260.0,246.0 261.0,254.0 263.0,264.0 266.0,270.0 270.0,278.0 276.0,284.0 282.0,286.0 288.0,292.0 294.0,298.0 298.0,306.0 302.0,316.0 306.0,324.0 310.0,332.0 316.0,340.0 322.0,348.0 324.0,356.0 330.0,362.0 332.0,370.0 330.0,380.0 329.0,390.0 332.0,398.0 333.0,404.0 335.0,410.0 336.0,418.0 337.0,425.0 339.0,427.0 340.0,430.0 340.0,435.0 340.0,442.0 342.0,447.0 344.0,452.0 348.0,453.0 352.0,455.0 356.0,455.0 360.0,453.0 364.0,451.0 369.0,452.0 372.0,451.0 374.0,448.0 378.0,446.0 380.0,445.0 392.5,437.5 405.0,435.0 417.5,430.0 425.0,425.0 437.5,422.5 447.5,417.5 457.5,407.5 470.0,402.5 480.0,395.0 492.5,390.0 500.0,380.0 507.5,372.5 515.0,367.5 525.0,365.0 535.0,360.0 545.0,357.5 557.5,357.5 562.5,352.5 562.5,345.0 567.5,340.0 575.0,337.5 587.5,332.5 589.0,325.0 592.5,320.0 600.0,316.0 610.0,312.5 609.0,300.0 610.0,290.0 614.0,285.0 616.0,279.0 620.0,280.0 625.0,277.5 630.0,270.0 635.0,262.5 640.0,257.5 645.0,247.5 649.0,240.0 647.5,236.0 642.5,232.5 638.0,226.0 635.0,222.5 627.5,212.5 617.5,210.0 606.5,205.0 598.0,202.0 592.0,196.5 588.0,188.0 583.5,179.2 582.0,168.0 585.0,160.0 583.5,153.4 580.6,156.2 574.9,167.8 566.2,176.4 557.6,185.0 546.1,193.6 534.6,199.4 523.0,200.8 508.8,202.2 499.0,204.8 494.4,202.2 491.5,190.8 490.2,192.5 488.5,190.8 483.2,190.8 479.8,185.5 478.0,178.5 474.5,171.5 469.2,166.2 467.5,161.0 465.8,154.0 467.5,147.0 465.8,143.5 462.2,140.0 457.0,134.8 453.5,129.5 450.0,126.0 446.5,122.5 443.0,119.0 437.8,108.5 434.2,99.8 430.8,91.0 428.1,84.9 423.8,84.0 427.2,80.5 432.5,77.0 430.8,73.5 428.0,70.0"/>
<path d="M483.2,190.8 481.5,175.0 481.5,157.5 488.5,155.8 493.8,161.0 495.5,175.0 493.8,189.0 491.5,190.8"/>
<path d="M467.5,70.0 476.2,80.5 478.0,87.5 481.5,91.0 485.0,99.8 488.5,110.2 493.8,115.5 502.5,119.0 511.2,124.2 517.4,130.4 526.0,136.1 534.6,143.3 546.1,143.3 554.8,147.6 563.4,143.3 572.0,139.0 580.6,133.2 589.2,133.2 595.0,139.0 597.9,150.5 600.8,162.0 606.5,167.8 623.8,169.2 630.0,169.6 633.5,172.0 641.7,170.8 648.8,173.1 658.1,173.7 659.3,171.4 661.6,172.0 662.8,175.5 671.0,176.6 676.9,179.0 680.4,176.6 683.9,179.0 688.6,177.8 694.5,176.6 700.3,175.5 707.0,176.0"/>
<path d="M563.0,140.0 570.0,137.0 578.0,137.0 575.0,142.0 566.0,146.0 563.0,140.0"/>
<path d="M668.7,70.0 667.5,73.5 669.8,75.9 694.5,82.9 707.0,83.5"/>
<path d="M669.8,75.9 674.5,81.7 678.0,87.6 680.4,93.4 681.6,97.0 687.4,102.8 695.6,105.2 698.0,108.7 703.2,109.8 703.8,116.9 704.4,122.7 703.8,131.0 707.0,132.0"/>
<path d="M707.0,143.8 695.6,146.2 692.1,150.9 686.2,153.2 685.1,159.0 683.9,163.8 682.7,175.5 683.9,179.0"/>
<path d="M180.0,74.5 183.2,84.2 199.5,87.5 212.5,81.0 222.2,71.2 228.8,70.0"/>
<path d="M345.8,70.0 368.5,87.5 407.5,90.8 416.8,92.8 421.0,101.5 432.5,103.2"/>
<path d="M411.5,70.0 406.2,80.5 401.0,89.2"/>
<path d="M92.0,247.0 116.0,247.0 117.0,243.0 119.0,243.0 119.0,247.0 221.0,247.0"/>
<path d="M340.0,347.0 350.0,350.0 360.0,347.5 375.0,354.0 385.0,360.0 396.0,364.0 397.5,387.5 412.5,372.5 425.0,357.5 442.5,330.0 472.0,322.0 502.5,313.8"/>
<path d="M491.5,190.8 497.0,205.0 514.5,225.2 537.5,231.0 560.0,232.5"/>
<path d="M582.0,168.0 575.0,182.0 572.0,196.0 566.0,210.0 562.0,225.0 560.0,232.5"/>
<path d="M502.5,313.8 530.0,302.0 557.5,291.2 564.0,270.0 570.0,247.5 562.5,230.0 560.0,232.5"/>
<path d="M502.5,313.8 507.5,330.0 515.0,350.0 522.5,365.0"/>
<path d="M626.0,287.0 628.0,279.0 631.0,276.0 630.0,283.0 626.0,287.0"/>
<path d="M528.0,456.0 534.0,454.0 540.0,455.0 546.0,456.0 547.0,459.0 541.0,461.0 534.0,460.0 528.0,458.0 528.0,456.0"/>
<path d="M253.0,336.0 248.0,344.0 240.0,348.0 233.0,350.0 232.0,356.0 223.0,358.0 222.0,364.0 220.0,380.0 216.0,390.0 213.5,399.0 214.6,417.0 213.5,430.5 209.0,441.8 205.6,451.9 198.9,454.1 193.2,462.0 188.8,471.0 186.5,480.0 184.2,493.5 177.5,493.5 173.0,500.2 171.9,509.2 169.6,520.5 168.5,534.0 168.5,543.0 164.0,547.5 157.2,547.5 151.6,549.8 149.4,558.8 152.8,563.2 159.5,564.4 166.2,571.5 175.2,580.5 182.0,587.2 184.2,598.5 188.8,609.8 195.5,614.2 200.0,616.5 202.2,623.2 202.2,632.2"/>
<path d="M214.6,417.0 222.5,415.9 229.2,414.8 233.8,421.5 240.5,406.9 247.2,410.2 251.8,414.8 260.8,411.4 266.0,413.0 280.0,414.0 288.0,418.0 294.0,422.0 300.0,429.0 303.0,433.0 307.0,437.0 311.0,441.0 314.0,445.0 316.0,449.0 320.0,452.0 322.0,456.0 324.0,458.0 327.0,458.0 330.0,460.0 332.0,457.0 334.5,454.5 337.0,454.0"/>
<path d="M324.0,458.0 318.8,462.5 315.0,468.8 312.5,473.8 311.9,478.8 312.5,482.5 312.5,491.2 317.5,491.2 322.5,490.0 327.5,488.8 331.2,490.0 332.5,492.5"/>
<path d="M340.0,481.0 336.0,487.0 332.5,492.5"/>
<path d="M332.5,492.5 328.8,497.5 328.8,501.2 332.5,507.5 340.0,517.5 347.5,527.5 355.0,535.0 365.0,540.0 377.5,545.0 390.0,550.0 405.0,556.0 427.5,557.0 417.5,567.5 407.5,577.5 400.0,590.0 390.0,602.0 380.0,614.0 372.0,624.0 364.0,625.0 350.0,624.0 340.0,628.0 336.0,632.0 332.0,638.0 322.0,640.0 318.0,641.0"/>
<path d="M202.2,632.2 218.0,635.6 231.5,639.0 242.8,652.5 252.0,654.0 258.5,654.8 270.0,658.0 278.0,650.0 292.0,640.0 300.0,646.0 312.0,645.0 318.0,641.0"/>
<path d="M318.0,641.0 314.0,646.0 308.0,658.0 298.0,670.0 297.4,690.0 297.4,753.0 308.0,770.0"/>
<path d="M202.2,632.2 175.2,632.2 168.5,639.0 166.2,643.5 159.5,648.0 150.5,649.1 140.4,650.2 132.5,652.5 125.8,650.2 114.5,650.2 110.0,654.8 103.2,648.0 92.0,641.2"/>
<path d="M168.5,639.0 168.5,643.5 173.0,650.2 175.2,659.2 179.8,668.2 182.0,677.2 184.2,688.5 183.1,701.2 177.5,708.0 170.8,719.2 166.2,730.5 166.2,744.0 166.2,756.4"/>
<path d="M110.0,654.8 107.8,666.0 106.6,675.0 107.8,681.8 114.5,686.2 114.5,693.0 110.0,697.5 101.0,706.5 94.2,713.0 92.0,715.0"/>
<path d="M166.2,756.4 99.9,756.4"/>
<path d="M166.2,756.4 186.5,766.5 204.5,777.8 220.2,789.0 233.8,800.2 236.0,811.5 249.5,822.8 257.0,830.0 265.2,836.2"/>
<path d="M99.9,756.4 105.5,762.0 107.8,775.5 108.9,784.5 101.0,786.8 92.0,786.8"/>
<path d="M101.0,786.8 101.0,795.8 107.8,800.2 107.8,807.0 101.0,816.0 96.5,820.5 92.0,825.0"/>
<path d="M92.0,883.5 98.0,889.5 101.0,900.0 105.5,909.0 107.0,915.0 111.5,922.5 116.0,924.0 122.0,928.5 128.0,931.5 134.0,934.5 140.0,937.5 147.5,942.0 152.0,943.5 158.0,945.0 162.5,945.8 167.0,943.5 171.5,948.0 176.0,956.0"/>
<path d="M92.0,917.0 107.0,915.8"/>
<path d="M147.5,942.0 150.5,946.5 155.0,952.5 156.5,956.0"/>
<path d="M272.5,843.0 276.0,841.0 277.0,846.0 275.0,852.0 272.5,854.0 272.5,848.0 272.5,843.0"/>
<path d="M264.0,861.0 266.0,860.0 268.5,866.0 270.5,872.0 269.5,877.0 266.0,874.0 264.0,868.0 264.0,861.0"/>
<path d="M272.0,910.0 274.0,905.0 277.0,903.0 276.0,907.0 272.0,910.0"/>
<path d="M278.0,382.0 283.0,382.0 286.0,388.0 280.0,388.0 278.0,382.0"/>
<path d="M312.0,359.0 316.0,358.0 320.0,365.0 316.0,366.0 312.0,359.0"/>
<path d="M474.0,152.5 476.0,151.5 477.0,156.0 476.3,162.5 474.5,161.0 474.0,152.5"/>
</g>
<rect x="92" y="70" width="615" height="885" fill="none" stroke="#000" stroke-width="2"/>
<path stroke="#000" stroke-width="1.2" fill="none" d="M87.5,70.0H92M87.5,180.6H92M87.5,291.2H92M87.5,401.9H92M87.5,512.5H92M87.5,623.1H92M87.5,733.8H92M87.5,844.4H92M87.5,955.0H92M92.0,955V960M147.9,955V960M203.8,955V960M259.7,955V960M315.6,955V960M371.5,955V960M427.5,955V960M483.4,955V960M539.3,955V960M595.2,955V960M651.1,955V960M707.0,955V960"/>
<g fill="none" stroke="#000" stroke-width="1.05" stroke-linejoin="round" stroke-linecap="round"><path transform="translate(60.12,66.10) scale(0.7708,0.9400)" d="M0.6,0 L6.5,0 L3,4.1 C5.5,4.1 7,5.3 7,7.1 C7,8.9 5.5,10 3.4,10 C1.8,10 0.7,9.4 0,8.3"/><path transform="translate(68.62,66.10) scale(0.7708,0.9400)" d="M3.5,0 C1.2,0 0,2.2 0,5 C0,7.8 1.2,10 3.5,10 C5.8,10 7,7.8 7,5 C7,2.2 5.8,0 3.5,0 Z"/><path transform="translate(77.11,66.10) scale(0.7708,0.9400)" d="M0,10 L0,0 L6.6,10 L6.6,0"/><path transform="translate(60.12,176.72) scale(0.7708,0.9400)" d="M0.4,2.4 C0.7,0.9 1.9,0 3.5,0 C5.3,0 6.6,1.1 6.6,2.8 C6.6,4.2 5.8,5.1 4.4,6.2 L0.2,10 L7,10"/><path transform="translate(68.62,176.72) scale(0.7708,0.9400)" d="M6.3,0 L1,0 L0.5,4.3 C1.3,3.7 2.3,3.4 3.4,3.4 C5.5,3.4 7,4.9 7,6.8 C7,8.7 5.5,10 3.4,10 C1.9,10 0.7,9.4 0,8.4"/><path transform="translate(77.11,176.72) scale(0.7708,0.9400)" d="M0,10 L0,0 L6.6,10 L6.6,0"/><path transform="translate(60.12,287.35) scale(0.7708,0.9400)" d="M0.4,2.4 C0.7,0.9 1.9,0 3.5,0 C5.3,0 6.6,1.1 6.6,2.8 C6.6,4.2 5.8,5.1 4.4,6.2 L0.2,10 L7,10"/><path transform="translate(68.62,287.35) scale(0.7708,0.9400)" d="M3.5,0 C1.2,0 0,2.2 0,5 C0,7.8 1.2,10 3.5,10 C5.8,10 7,7.8 7,5 C7,2.2 5.8,0 3.5,0 Z"/><path transform="translate(77.11,287.35) scale(0.7708,0.9400)" d="M0,10 L0,0 L6.6,10 L6.6,0"/><path transform="translate(62.43,397.98) scale(0.7708,0.9400)" d="M0.6,2 L2.2,1 L3.6,0 L3.6,10"/><path transform="translate(68.62,397.98) scale(0.7708,0.9400)" d="M6.3,0 L1,0 L0.5,4.3 C1.3,3.7 2.3,3.4 3.4,3.4 C5.5,3.4 7,4.9 7,6.8 C7,8.7 5.5,10 3.4,10 C1.9,10 0.7,9.4 0,8.4"/><path transform="translate(77.11,397.98) scale(0.7708,0.9400)" d="M0,10 L0,0 L6.6,10 L6.6,0"/><path transform="translate(62.43,508.60) scale(0.7708,0.9400)" d="M0.6,2 L2.2,1 L3.6,0 L3.6,10"/><path transform="translate(68.62,508.60) scale(0.7708,0.9400)" d="M3.5,0 C1.2,0 0,2.2 0,5 C0,7.8 1.2,10 3.5,10 C5.8,10 7,7.8 7,5 C7,2.2 5.8,0 3.5,0 Z"/><path transform="translate(77.11,508.60) scale(0.7708,0.9400)" d="M0,10 L0,0 L6.6,10 L6.6,0"/><path transform="translate(68.62,619.23) scale(0.7708,0.9400)" d="M6.3,0 L1,0 L0.5,4.3 C1.3,3.7 2.3,3.4 3.4,3.4 C5.5,3.4 7,4.9 7,6.8 C7,8.7 5.5,10 3.4,10 C1.9,10 0.7,9.4 0,8.4"/><path transform="translate(77.11,619.23) scale(0.7708,0.9400)" d="M0,10 L0,0 L6.6,10 L6.6,0"/><path transform="translate(69.70,729.85) scale(0.7708,0.9400)" d="M5.6,0 L0,0 L0,10 L5.6,10 M0,4.8 L3.6,4.8"/><path transform="translate(77.11,729.85) scale(0.7708,0.9400)" d="M3.3,0 C1.1,0 0,2.2 0,5 C0,7.8 1.1,10 3.3,10 C5.5,10 6.6,7.8 6.6,5 C6.6,2.2 5.5,0 3.3,0 Z M3.6,7.6 L6.6,10.8"/><path transform="translate(68.46,840.48) scale(0.7708,0.9400)" d="M6.3,0 L1,0 L0.5,4.3 C1.3,3.7 2.3,3.4 3.4,3.4 C5.5,3.4 7,4.9 7,6.8 C7,8.7 5.5,10 3.4,10 C1.9,10 0.7,9.4 0,8.4"/><path transform="translate(76.96,840.48) scale(0.7708,0.9400)" d="M6.6,1.5 C6,0.5 4.9,0 3.4,0 C1.6,0 0.3,0.9 0.3,2.5 C0.3,4.1 1.8,4.6 3.4,5 C5.4,5.5 6.8,6.1 6.8,7.6 C6.8,9.2 5.4,10 3.5,10 C1.9,10 0.7,9.4 0,8.3"/><path transform="translate(62.28,951.10) scale(0.7708,0.9400)" d="M0.6,2 L2.2,1 L3.6,0 L3.6,10"/><path transform="translate(68.46,951.10) scale(0.7708,0.9400)" d="M3.5,0 C1.2,0 0,2.2 0,5 C0,7.8 1.2,10 3.5,10 C5.8,10 7,7.8 7,5 C7,2.2 5.8,0 3.5,0 Z"/><path transform="translate(76.96,951.10) scale(0.7708,0.9400)" d="M6.6,1.5 C6,0.5 4.9,0 3.4,0 C1.6,0 0.3,0.9 0.3,2.5 C0.3,4.1 1.8,4.6 3.4,5 C5.4,5.5 6.8,6.1 6.8,7.6 C6.8,9.2 5.4,10 3.5,10 C1.9,10 0.7,9.4 0,8.3"/><path transform="translate(80.94,962.50) scale(0.8118,0.9900)" d="M0.6,0 L6.5,0 L3,4.1 C5.5,4.1 7,5.3 7,7.1 C7,8.9 5.5,10 3.4,10 C1.8,10 0.7,9.4 0,8.3"/><path transform="translate(89.73,962.50) scale(0.8118,0.9900)" d="M3.5,0 C1.2,0 0,2.2 0,5 C0,7.8 1.2,10 3.5,10 C5.8,10 7,7.8 7,5 C7,2.2 5.8,0 3.5,0 Z"/><path transform="translate(98.51,962.50) scale(0.8118,0.9900)" d="M5.6,0 L0,0 L0,10 L5.6,10 M0,4.8 L3.6,4.8"/><path transform="translate(136.85,962.50) scale(0.8118,0.9900)" d="M0.6,0 L6.5,0 L3,4.1 C5.5,4.1 7,5.3 7,7.1 C7,8.9 5.5,10 3.4,10 C1.8,10 0.7,9.4 0,8.3"/><path transform="translate(145.64,962.50) scale(0.8118,0.9900)" d="M0.6,0 L6.5,0 L3,4.1 C5.5,4.1 7,5.3 7,7.1 C7,8.9 5.5,10 3.4,10 C1.8,10 0.7,9.4 0,8.3"/><path transform="translate(154.42,962.50) scale(0.8118,0.9900)" d="M5.6,0 L0,0 L0,10 L5.6,10 M0,4.8 L3.6,4.8"/><path transform="translate(192.76,962.50) scale(0.8118,0.9900)" d="M0.6,0 L6.5,0 L3,4.1 C5.5,4.1 7,5.3 7,7.1 C7,8.9 5.5,10 3.4,10 C1.8,10 0.7,9.4 0,8.3"/><path transform="translate(201.55,962.50) scale(0.8118,0.9900)" d="M6.4,1.3 C5.8,0.4 4.8,0 3.7,0 C1.4,0 0,2.2 0,5.5 C0,8.4 1.3,10 3.5,10 C5.5,10 7,8.6 7,6.7 C7,4.8 5.5,3.5 3.6,3.5 C1.9,3.5 0.5,4.6 0,6.3"/><path transform="translate(210.33,962.50) scale(0.8118,0.9900)" d="M5.6,0 L0,0 L0,10 L5.6,10 M0,4.8 L3.6,4.8"/><path transform="translate(248.67,962.50) scale(0.8118,0.9900)" d="M0.6,0 L6.5,0 L3,4.1 C5.5,4.1 7,5.3 7,7.1 C7,8.9 5.5,10 3.4,10 C1.8,10 0.7,9.4 0,8.3"/><path transform="translate(257.45,962.50) scale(0.8118,0.9900)" d="M6.9,3.6 C6.4,5.3 5.1,6.5 3.4,6.5 C1.5,6.5 0,5.2 0,3.3 C0,1.4 1.5,0 3.5,0 C5.7,0 7,1.6 7,4.5 C7,7.8 5.6,10 3.3,10 C2.3,10 1.3,9.6 0.6,8.7"/><path transform="translate(266.24,962.50) scale(0.8118,0.9900)" d="M5.6,0 L0,0 L0,10 L5.6,10 M0,4.8 L3.6,4.8"/><path transform="translate(304.58,962.50) scale(0.8118,0.9900)" d="M5.2,10 L5.2,0 L0,7 L7,7"/><path transform="translate(313.36,962.50) scale(0.8118,0.9900)" d="M0.4,2.4 C0.7,0.9 1.9,0 3.5,0 C5.3,0 6.6,1.1 6.6,2.8 C6.6,4.2 5.8,5.1 4.4,6.2 L0.2,10 L7,10"/><path transform="translate(322.15,962.50) scale(0.8118,0.9900)" d="M5.6,0 L0,0 L0,10 L5.6,10 M0,4.8 L3.6,4.8"/><path transform="translate(360.49,962.50) scale(0.8118,0.9900)" d="M5.2,10 L5.2,0 L0,7 L7,7"/><path transform="translate(369.27,962.50) scale(0.8118,0.9900)" d="M6.3,0 L1,0 L0.5,4.3 C1.3,3.7 2.3,3.4 3.4,3.4 C5.5,3.4 7,4.9 7,6.8 C7,8.7 5.5,10 3.4,10 C1.9,10 0.7,9.4 0,8.4"/><path transform="translate(378.06,962.50) scale(0.8118,0.9900)" d="M5.6,0 L0,0 L0,10 L5.6,10 M0,4.8 L3.6,4.8"/><path transform="translate(416.40,962.50) scale(0.8118,0.9900)" d="M5.2,10 L5.2,0 L0,7 L7,7"/><path transform="translate(425.18,962.50) scale(0.8118,0.9900)" d="M3.5,0 C1.7,0 0.6,1 0.6,2.5 C0.6,4 1.8,4.6 3.5,5 C5.3,5.4 7,6.3 7,7.7 C7,9.2 5.6,10 3.5,10 C1.4,10 0,9.2 0,7.7 C0,6.3 1.7,5.4 3.5,5 C5.2,4.6 6.4,4 6.4,2.5 C6.4,1 5.3,0 3.5,0 Z"/><path transform="translate(433.96,962.50) scale(0.8118,0.9900)" d="M5.6,0 L0,0 L0,10 L5.6,10 M0,4.8 L3.6,4.8"/><path transform="translate(473.53,962.50) scale(0.8118,0.9900)" d="M6.3,0 L1,0 L0.5,4.3 C1.3,3.7 2.3,3.4 3.4,3.4 C5.5,3.4 7,4.9 7,6.8 C7,8.7 5.5,10 3.4,10 C1.9,10 0.7,9.4 0,8.4"/><path transform="translate(482.31,962.50) scale(0.8118,0.9900)" d="M0.6,2 L2.2,1 L3.6,0 L3.6,10"/><path transform="translate(488.66,962.50) scale(0.8118,0.9900)" d="M5.6,0 L0,0 L0,10 L5.6,10 M0,4.8 L3.6,4.8"/><path transform="translate(528.22,962.50) scale(0.8118,0.9900)" d="M6.3,0 L1,0 L0.5,4.3 C1.3,3.7 2.3,3.4 3.4,3.4 C5.5,3.4 7,4.9 7,6.8 C7,8.7 5.5,10 3.4,10 C1.9,10 0.7,9.4 0,8.4"/><path transform="translate(537.00,962.50) scale(0.8118,0.9900)" d="M5.2,10 L5.2,0 L0,7 L7,7"/><path transform="translate(545.78,962.50) scale(0.8118,0.9900)" d="M5.6,0 L0,0 L0,10 L5.6,10 M0,4.8 L3.6,4.8"/><path transform="translate(584.13,962.50) scale(0.8118,0.9900)" d="M6.3,0 L1,0 L0.5,4.3 C1.3,3.7 2.3,3.4 3.4,3.4 C5.5,3.4 7,4.9 7,6.8 C7,8.7 5.5,10 3.4,10 C1.9,10 0.7,9.4 0,8.4"/><path transform="translate(592.91,962.50) scale(0.8118,0.9900)" d="M0,0 L7,0 L2.3,10"/><path transform="translate(601.69,962.50) scale(0.8118,0.9900)" d="M5.6,0 L0,0 L0,10 L5.6,10 M0,4.8 L3.6,4.8"/><path transform="translate(640.04,962.50) scale(0.8118,0.9900)" d="M6.4,1.3 C5.8,0.4 4.8,0 3.7,0 C1.4,0 0,2.2 0,5.5 C0,8.4 1.3,10 3.5,10 C5.5,10 7,8.6 7,6.7 C7,4.8 5.5,3.5 3.6,3.5 C1.9,3.5 0.5,4.6 0,6.3"/><path transform="translate(648.82,962.50) scale(0.8118,0.9900)" d="M3.5,0 C1.2,0 0,2.2 0,5 C0,7.8 1.2,10 3.5,10 C5.8,10 7,7.8 7,5 C7,2.2 5.8,0 3.5,0 Z"/><path transform="translate(657.60,962.50) scale(0.8118,0.9900)" d="M5.6,0 L0,0 L0,10 L5.6,10 M0,4.8 L3.6,4.8"/><path transform="translate(695.94,962.50) scale(0.8118,0.9900)" d="M6.4,1.3 C5.8,0.4 4.8,0 3.7,0 C1.4,0 0,2.2 0,5.5 C0,8.4 1.3,10 3.5,10 C5.5,10 7,8.6 7,6.7 C7,4.8 5.5,3.5 3.6,3.5 C1.9,3.5 0.5,4.6 0,6.3"/><path transform="translate(704.73,962.50) scale(0.8118,0.9900)" d="M0.6,0 L6.5,0 L3,4.1 C5.5,4.1 7,5.3 7,7.1 C7,8.9 5.5,10 3.4,10 C1.8,10 0.7,9.4 0,8.3"/><path transform="translate(713.51,962.50) scale(0.8118,0.9900)" d="M5.6,0 L0,0 L0,10 L5.6,10 M0,4.8 L3.6,4.8"/><path transform="translate(145.21,1004.70) scale(0.7708,0.9400)" d="M3.5,0 C1.2,0 0,2.2 0,5 C0,7.8 1.2,10 3.5,10 C5.8,10 7,7.8 7,5 C7,2.2 5.8,0 3.5,0 Z"/><path transform="translate(198.03,1004.70) scale(0.7708,0.9400)" d="M0.6,2 L2.2,1 L3.6,0 L3.6,10"/><path transform="translate(204.21,1004.70) scale(0.7708,0.9400)" d="M3.5,0 C1.2,0 0,2.2 0,5 C0,7.8 1.2,10 3.5,10 C5.8,10 7,7.8 7,5 C7,2.2 5.8,0 3.5,0 Z"/><path transform="translate(252.78,1004.70) scale(0.7708,0.9400)" d="M0.4,2.4 C0.7,0.9 1.9,0 3.5,0 C5.3,0 6.6,1.1 6.6,2.8 C6.6,4.2 5.8,5.1 4.4,6.2 L0.2,10 L7,10"/><path transform="translate(261.28,1004.70) scale(0.7708,0.9400)" d="M3.5,0 C1.2,0 0,2.2 0,5 C0,7.8 1.2,10 3.5,10 C5.8,10 7,7.8 7,5 C7,2.2 5.8,0 3.5,0 Z"/><path transform="translate(308.69,1004.70) scale(0.7708,0.9400)" d="M0.6,0 L6.5,0 L3,4.1 C5.5,4.1 7,5.3 7,7.1 C7,8.9 5.5,10 3.4,10 C1.8,10 0.7,9.4 0,8.3"/><path transform="translate(317.19,1004.70) scale(0.7708,0.9400)" d="M3.5,0 C1.2,0 0,2.2 0,5 C0,7.8 1.2,10 3.5,10 C5.8,10 7,7.8 7,5 C7,2.2 5.8,0 3.5,0 Z"/><path transform="translate(364.60,1004.70) scale(0.7708,0.9400)" d="M5.2,10 L5.2,0 L0,7 L7,7"/><path transform="translate(373.10,1004.70) scale(0.7708,0.9400)" d="M3.5,0 C1.2,0 0,2.2 0,5 C0,7.8 1.2,10 3.5,10 C5.8,10 7,7.8 7,5 C7,2.2 5.8,0 3.5,0 Z"/><path transform="translate(420.51,1004.70) scale(0.7708,0.9400)" d="M6.3,0 L1,0 L0.5,4.3 C1.3,3.7 2.3,3.4 3.4,3.4 C5.5,3.4 7,4.9 7,6.8 C7,8.7 5.5,10 3.4,10 C1.9,10 0.7,9.4 0,8.4"/><path transform="translate(429.00,1004.70) scale(0.7708,0.9400)" d="M3.5,0 C1.2,0 0,2.2 0,5 C0,7.8 1.2,10 3.5,10 C5.8,10 7,7.8 7,5 C7,2.2 5.8,0 3.5,0 Z"/><path transform="translate(476.42,1004.70) scale(0.7708,0.9400)" d="M6.4,1.3 C5.8,0.4 4.8,0 3.7,0 C1.4,0 0,2.2 0,5.5 C0,8.4 1.3,10 3.5,10 C5.5,10 7,8.6 7,6.7 C7,4.8 5.5,3.5 3.6,3.5 C1.9,3.5 0.5,4.6 0,6.3"/><path transform="translate(484.91,1004.70) scale(0.7708,0.9400)" d="M3.5,0 C1.2,0 0,2.2 0,5 C0,7.8 1.2,10 3.5,10 C5.8,10 7,7.8 7,5 C7,2.2 5.8,0 3.5,0 Z"/><path transform="translate(532.33,1004.70) scale(0.7708,0.9400)" d="M0,0 L7,0 L2.3,10"/><path transform="translate(540.82,1004.70) scale(0.7708,0.9400)" d="M3.5,0 C1.2,0 0,2.2 0,5 C0,7.8 1.2,10 3.5,10 C5.8,10 7,7.8 7,5 C7,2.2 5.8,0 3.5,0 Z"/><path transform="translate(588.24,1004.70) scale(0.7708,0.9400)" d="M3.5,0 C1.7,0 0.6,1 0.6,2.5 C0.6,4 1.8,4.6 3.5,5 C5.3,5.4 7,6.3 7,7.7 C7,9.2 5.6,10 3.5,10 C1.4,10 0,9.2 0,7.7 C0,6.3 1.7,5.4 3.5,5 C5.2,4.6 6.4,4 6.4,2.5 C6.4,1 5.3,0 3.5,0 Z"/><path transform="translate(596.73,1004.70) scale(0.7708,0.9400)" d="M3.5,0 C1.2,0 0,2.2 0,5 C0,7.8 1.2,10 3.5,10 C5.8,10 7,7.8 7,5 C7,2.2 5.8,0 3.5,0 Z"/><path transform="translate(644.15,1004.70) scale(0.7708,0.9400)" d="M6.9,3.6 C6.4,5.3 5.1,6.5 3.4,6.5 C1.5,6.5 0,5.2 0,3.3 C0,1.4 1.5,0 3.5,0 C5.7,0 7,1.6 7,4.5 C7,7.8 5.6,10 3.3,10 C2.3,10 1.3,9.6 0.6,8.7"/><path transform="translate(652.64,1004.70) scale(0.7708,0.9400)" d="M3.5,0 C1.2,0 0,2.2 0,5 C0,7.8 1.2,10 3.5,10 C5.8,10 7,7.8 7,5 C7,2.2 5.8,0 3.5,0 Z"/></g>
<rect x="92.00" y="979.5" width="56.31" height="20" fill="#1464d2"/><rect x="147.91" y="979.5" width="56.31" height="20" fill="#1e6eeb"/><rect x="203.82" y="979.5" width="56.31" height="20" fill="#3c96f5"/><rect x="259.73" y="979.5" width="56.31" height="20" fill="#78b9fa"/><rect x="315.64" y="979.5" width="56.31" height="20" fill="#b4f0fa"/><rect x="371.55" y="979.5" width="56.31" height="20" fill="#ebebeb"/><rect x="427.45" y="979.5" width="56.31" height="20" fill="#ffe878"/><rect x="483.36" y="979.5" width="56.31" height="20" fill="#ffa000"/><rect x="539.27" y="979.5" width="56.31" height="20" fill="#ff3200"/><rect x="595.18" y="979.5" width="56.31" height="20" fill="#c00000"/><rect x="651.09" y="979.5" width="56.31" height="20" fill="#a50000"/><rect x="92" y="979.5" width="615" height="20" fill="none" stroke="#000" stroke-width="1.2"/>
<path fill="#000" stroke="#000" stroke-width="1.3" stroke-linejoin="round" fill-rule="nonzero" d="M439.4,398.1 436.7,400.6 436.7,401.0 438.4,403.3 441.2,400.6ZM430.7,374.5 428.3,377.0 430.0,378.9 432.2,376.6ZM435.1,374.0 432.7,376.4 434.4,378.4 436.6,376.1ZM416.2,373.4 413.7,375.7 415.2,377.9 417.5,375.7ZM420.4,372.9 418.0,375.4 419.7,377.3 421.9,375.0ZM483.5,371.5 481.7,371.9 480.0,373.4 478.1,389.0 477.1,395.0 479.0,394.8 479.5,393.2 482.7,376.8 484.0,375.6ZM475.5,371.5 471.4,373.8 470.8,389.9 469.7,390.6 468.4,390.9 466.1,390.9 464.4,390.2 464.1,389.9 465.8,387.2 465.8,385.3 464.1,382.4 461.6,380.9 459.6,380.9 457.6,381.7 454.5,384.0 452.0,386.5 452.1,383.3 453.1,376.6 454.3,375.6 453.8,371.5 453.1,371.5 451.9,372.0 450.8,373.1 450.3,374.0 449.9,376.1 449.7,389.0 447.9,391.1 443.8,390.9 442.1,390.2 442.0,389.5 443.9,386.5 443.2,386.0 441.7,386.3 439.9,389.0 438.6,390.4 437.0,390.9 433.4,391.1 433.1,390.7 434.0,389.3 434.5,386.9 434.4,385.4 433.8,383.0 432.4,381.4 429.9,381.9 427.9,383.3 425.9,385.6 424.9,388.1 424.5,391.1 421.5,390.9 420.0,390.4 419.5,389.9 421.8,378.2 418.1,380.7 417.8,382.3 414.8,384.0 412.1,386.3 410.0,390.7 410.9,392.0 413.0,393.4 416.2,393.9 417.6,391.4 418.0,391.3 418.1,393.0 418.7,394.1 420.9,395.0 425.2,394.8 428.1,393.9 432.9,395.0 436.1,395.0 438.8,394.1 440.2,392.7 442.0,394.4 442.9,394.8 450.7,394.8 456.2,393.9 459.2,393.0 461.3,392.0 463.2,393.9 464.9,394.8 468.6,394.8 470.3,393.9 472.0,390.9ZM431.2,385.6 432.2,387.4 432.4,389.3 431.5,390.0 428.8,391.1 427.4,390.2 426.3,389.0 427.0,388.1 429.4,386.0 430.1,385.6ZM417.9,389.9 417.4,390.0 414.7,389.5 413.5,389.0 412.7,388.1 414.8,386.5 417.9,385.3ZM463.6,388.4 460.7,389.5 456.2,390.6 453.6,390.9 450.5,390.7 454.2,387.2 456.2,385.8 458.4,384.9 459.9,384.9 461.6,385.8ZM510.0,398.1 507.1,400.6 507.0,401.0 509.0,403.3 511.9,400.6ZM493.1,390.2 493.0,390.7 494.0,392.0 496.8,393.6 499.8,393.9 501.3,391.4 501.7,391.3 502.0,393.4 503.4,394.6 506.7,395.0 510.8,394.1 513.1,392.9 515.0,389.3 515.3,386.9 515.3,380.9 513.3,381.9 511.5,384.0 511.5,385.1 513.0,389.7 512.4,390.2 509.0,390.9 505.5,390.9 503.3,389.9 505.6,378.2 501.7,380.7 501.4,382.3 498.1,384.0 495.2,386.3ZM501.6,389.9 501.1,390.0 498.1,389.5 496.8,389.0 495.9,388.1 498.1,386.5 501.5,385.3ZM499.5,373.4 496.8,375.7 498.4,377.9 500.9,375.7ZM504.0,372.9 501.5,375.4 503.4,377.3 505.7,375.0ZM587.9,371.5 585.9,371.9 584.1,373.4 582.3,389.0 581.3,395.0 583.4,394.8 583.9,393.2 587.1,376.8 588.5,375.6ZM579.1,371.5 574.7,373.8 574.3,390.0 571.7,390.9 569.7,390.9 568.4,390.4 568.1,390.0 567.4,382.3 567.1,382.1 566.1,382.6 564.4,384.2 563.8,385.8 563.9,387.6 565.7,391.8 566.0,393.6 564.4,395.9 562.9,397.1 561.2,398.0 559.2,398.5 557.0,398.5 554.8,398.0 554.1,399.4 557.0,401.9 558.0,402.2 559.9,402.0 563.2,400.4 565.3,398.3 566.5,396.6 567.4,394.4 569.2,395.0 572.0,394.8 573.5,394.3 574.6,393.0 575.7,390.9ZM555.8,385.8 555.0,383.9 553.0,381.7 551.1,380.9 548.9,380.9 547.0,381.6 545.0,382.8 540.7,386.5 540.5,386.0 541.8,376.6 543.0,375.7 542.4,371.5 541.2,371.7 539.8,372.4 538.4,374.3 538.2,376.4 538.3,389.0 536.8,390.7 536.2,391.1 531.5,391.1 531.3,390.7 531.1,386.1 530.1,383.5 528.3,381.9 526.4,381.9 524.7,383.0 522.4,385.8 521.2,388.3 520.7,391.8 521.6,393.6 523.0,394.4 528.0,395.1 526.3,396.7 524.0,398.0 522.0,398.5 519.2,398.5 517.1,398.0 516.3,399.4 519.4,401.9 520.4,402.2 522.3,402.0 525.3,400.8 527.0,399.6 528.7,397.6 530.3,395.0 541.2,394.6 544.7,394.1 548.7,393.0 551.6,391.8 553.8,390.2 555.4,387.9ZM523.1,387.4 524.8,386.0 526.8,386.0 528.5,387.9 529.2,390.7 525.5,390.9 524.2,390.6 523.2,389.9 522.8,389.1ZM553.3,388.3 552.1,389.0 545.4,390.6 542.6,390.9 539.2,390.7 543.4,387.0 545.3,385.8 547.6,384.9 549.1,384.9 550.9,385.6ZM621.1,398.1 618.6,400.4 620.1,402.6 622.3,400.3ZM624.9,397.6 622.7,399.9 624.2,402.0 626.2,399.9 626.3,399.6ZM629.1,387.4 629.2,380.9 627.8,381.7 626.1,383.9 626.1,385.6 627.1,389.9 625.9,390.4 622.8,390.9 618.7,390.9 617.3,390.4 616.8,389.9 618.9,386.3 617.5,386.0 616.8,386.3 615.3,388.8 614.2,389.9 612.6,390.6 608.6,391.3 603.1,391.1 601.4,390.4 600.3,388.8 600.1,386.7 600.7,384.2 599.4,384.4 598.4,386.9 598.0,389.1 598.0,391.3 598.6,393.0 599.7,394.3 601.5,395.1 606.1,395.3 608.6,395.0 612.4,393.9 615.0,392.3 617.0,394.4 618.5,395.0 620.1,395.0 623.5,394.4 626.8,393.2 628.6,390.0ZM630.3,393.4 630.7,394.4 632.7,395.3 636.6,395.0 640.1,393.4 641.0,394.3 642.5,395.0 647.2,395.0 649.7,394.4 651.3,393.7 654.8,391.3 656.6,390.6 656.9,393.4 657.8,394.3 661.2,395.0 665.5,394.8 668.4,394.1 670.7,393.0 672.3,390.0 672.8,387.4 672.9,380.9 671.6,381.7 669.8,383.9 669.8,385.6 670.9,389.9 669.6,390.4 666.5,390.9 659.9,390.7 659.6,390.2 661.0,390.0 662.5,387.2 658.9,386.9 656.3,385.4 653.0,382.6 652.0,382.3 650.3,382.3 648.2,383.1 647.3,384.0 646.5,385.6 646.6,387.4 646.8,387.7 649.0,386.5 651.1,386.3 652.4,387.0 654.4,389.0 654.0,389.3 649.0,390.9 643.1,390.9 642.5,390.6 641.6,389.0 641.0,385.8 640.8,380.0 640.6,379.6 639.1,380.9 638.4,382.1 638.0,383.9 638.4,387.4 639.2,390.6 638.9,390.9 637.2,391.3 633.9,391.3 631.7,389.9 630.9,391.1ZM607.2,378.9 604.8,381.2 606.2,383.3 608.4,381.2ZM611.2,378.6 609.0,380.9 610.6,382.8 612.6,380.5ZM609.5,376.1 607.7,378.0 609.1,379.8 610.8,377.9ZM670.7,374.7 668.4,377.0 669.7,379.1 671.9,377.0ZM674.6,374.1 672.4,376.6 673.9,378.6 676.0,376.3ZM504.3,443.1 501.9,445.4 503.6,447.6 505.8,445.4 505.9,445.1ZM508.8,442.6 506.4,444.9 508.1,447.0 510.3,444.6ZM480.4,427.1 479.1,427.1 477.4,428.0 475.4,430.3 473.9,432.7 474.9,433.4 476.9,431.5 478.0,431.0 478.8,431.0 479.8,432.2 481.3,434.9 475.3,435.6 472.9,436.4 470.9,440.0 469.4,452.0 472.8,450.0 472.9,440.0 474.1,439.4 477.4,438.9 483.0,438.6 485.2,434.7 483.6,432.6 481.9,428.9ZM530.1,416.5 528.3,416.9 526.5,418.4 524.6,434.0 523.6,440.0 525.6,439.8 526.0,438.2 529.2,421.8 530.6,420.6ZM521.9,416.5 517.7,418.8 517.5,431.0 517.0,435.2 514.7,435.9 512.5,435.9 510.7,435.2 510.6,434.7 512.6,431.3 511.0,431.0 509.9,431.9 507.8,434.9 506.5,435.7 500.5,436.1 500.4,431.7 499.6,429.0 499.0,428.0 497.8,426.9 496.0,426.9 494.0,428.3 492.5,430.3 491.1,433.1 490.5,436.3 490.8,437.9 491.5,438.7 492.6,439.4 497.3,440.1 495.7,441.7 493.0,443.1 491.5,443.5 489.1,443.5 487.1,443.0 486.3,444.4 488.1,446.1 489.5,447.0 490.9,447.2 493.0,446.7 495.0,445.6 497.5,443.1 499.4,440.0 503.5,440.0 505.8,439.6 507.4,438.9 508.7,437.7 510.2,439.1 511.6,439.8 513.9,440.0 516.3,439.3 517.4,438.0 518.4,435.9ZM492.6,432.7 493.1,432.0 494.8,430.8 496.4,431.0 497.8,432.7 498.5,435.7 494.9,435.9 493.9,435.6 492.6,434.5ZM584.1,417.9 581.1,420.7 583.3,423.0 586.1,420.4ZM608.8,416.5 606.8,416.9 604.9,418.4 603.1,434.0 602.1,440.0 604.3,439.8 604.7,438.2 607.9,421.8 609.4,420.6ZM599.9,416.5 595.4,418.8 595.1,435.0 594.5,435.4 592.5,435.9 590.0,435.9 588.1,435.2 587.8,434.9 589.5,432.2 589.6,430.3 587.7,427.4 584.8,425.9 582.6,425.9 580.5,426.7 577.1,429.0 574.3,431.5 574.4,428.3 575.4,421.6 576.6,420.6 576.0,416.5 575.3,416.5 574.0,417.0 572.7,418.1 572.2,419.0 571.8,421.1 571.9,434.0 569.9,436.1 566.5,435.9 562.8,436.3 564.6,434.0 565.1,431.3 565.4,425.3 565.2,424.8 564.0,424.6 560.2,428.1 556.9,432.6 555.2,435.9 551.8,435.9 550.4,435.2 549.5,427.1 549.2,427.1 547.8,428.0 546.5,429.4 545.9,431.3 546.3,433.1 548.4,438.4 547.6,439.6 545.7,441.7 543.5,443.0 541.5,443.5 539.2,443.5 537.0,443.0 536.2,444.4 537.9,446.0 539.6,447.0 541.1,447.2 542.7,446.9 544.9,445.8 547.4,443.5 549.8,439.3 551.4,440.0 552.8,440.0 552.9,441.4 554.0,441.0 554.3,443.7 556.3,446.3 558.5,447.2 560.6,447.2 562.9,446.1 564.5,443.3 564.7,442.3 564.4,441.2 563.4,440.3 563.6,440.1 573.1,439.8 577.3,439.3 581.9,438.2 584.8,437.0 586.8,438.9 588.7,439.8 591.7,440.0 593.9,439.4 595.4,438.0 596.5,435.9ZM556.9,440.3 557.3,440.0 558.7,440.0 560.7,440.7 561.9,441.7 562.8,443.3 561.3,444.0 558.5,443.7 557.2,442.3ZM587.2,433.4 584.0,434.5 579.1,435.6 576.3,435.9 572.8,435.7 576.8,432.2 579.0,430.8 581.4,429.9 583.0,429.9 584.9,430.8ZM562.0,429.4 562.6,434.3 560.6,435.6 557.9,436.3 557.9,435.2 559.1,432.9ZM626.0,427.1 624.5,427.1 623.3,427.8 621.3,429.9 619.7,432.7 620.6,433.4 622.8,431.3 624.4,431.0 625.3,432.0 626.6,434.9 622.0,435.4 618.7,436.3 616.7,439.8 615.0,452.0 618.4,450.0 618.6,440.0 619.8,439.4 622.9,438.9 628.4,438.6 630.6,434.7 629.0,432.4 627.4,428.7ZM601.6,486.2 599.3,488.5 600.9,490.7 603.0,488.2ZM605.7,485.7 603.3,488.0 604.8,490.1 607.0,487.8ZM619.2,484.5 616.7,487.0 616.6,487.3 618.2,489.6 620.7,487.0ZM579.8,468.4 578.7,469.8 578.4,471.4 578.9,472.7 577.5,474.1 575.8,476.5 575.3,477.8 574.9,479.9 575.2,481.5 576.0,482.7 577.3,483.4 578.9,483.4 580.1,483.1 581.6,482.0 583.3,479.4 584.1,477.6 584.4,476.2 584.0,473.4 583.1,471.2 581.6,469.5ZM579.9,473.5 581.5,476.0 582.1,478.7 581.9,479.0 579.9,479.9 578.4,479.9 577.3,478.7 577.5,476.9 578.0,475.8ZM586.0,481.3 586.6,482.7 588.3,483.4 592.2,483.1 595.9,481.5 596.5,482.2 598.2,483.1 602.3,482.9 604.2,482.2 605.6,480.8 608.1,482.9 613.3,483.1 616.1,482.4 622.0,479.2 623.3,478.8 626.4,479.0 628.5,475.5 624.9,475.1 621.5,473.2 618.9,470.9 618.0,470.5 616.2,470.5 614.5,471.2 613.0,472.7 612.5,474.8 612.8,476.0 615.1,474.8 617.0,474.6 620.2,476.9 620.1,477.4 614.6,479.0 608.5,478.8 607.3,478.0 609.3,474.6 608.7,474.1 607.9,474.1 607.1,474.6 605.2,477.6 603.7,478.8 598.7,479.0 598.0,478.7 597.1,476.7 596.4,471.1 596.4,468.1 596.2,467.7 594.7,469.0 593.9,470.4 593.7,471.8 593.8,474.6 594.8,478.7 594.4,479.0 592.8,479.4 589.7,479.4 588.4,478.8 587.5,478.0 586.5,479.4ZM580.1,461.5 577.8,464.0 579.4,466.0 581.4,463.7ZM584.1,461.0 581.9,463.5 583.4,465.4 585.4,463.1ZM640.2,494.0 637.5,496.1 637.5,496.5 639.5,498.4 642.0,496.0ZM645.2,493.5 642.6,495.6 642.5,496.0 644.5,497.9 647.0,495.4ZM689.9,470.2 687.4,471.8 686.4,473.2 686.2,474.2 686.5,476.2 688.8,481.5 687.5,483.4 685.5,485.2 683.3,486.2 681.8,486.6 678.6,486.6 676.9,486.2 676.1,487.3 677.8,489.1 679.9,490.3 682.4,490.1 685.6,488.7 688.0,486.4 689.6,484.0 690.3,482.4 691.0,478.7ZM676.8,475.1 675.7,472.3 673.8,469.8 671.3,467.9 668.0,466.7 666.4,470.2 664.5,471.8 662.6,474.6 662.1,476.2 662.7,478.8 662.5,479.0 657.3,479.2 652.1,478.7 650.7,480.4 649.7,482.5 651.4,484.1 655.4,486.2 655.4,486.6 651.7,487.7 646.2,488.4 642.4,488.4 640.3,487.8 639.1,487.1 638.2,485.4 638.4,482.5 639.3,480.6 637.9,480.2 636.2,484.1 635.8,486.2 635.9,488.5 637.3,490.8 639.1,491.9 640.7,492.2 645.1,492.2 651.4,490.7 654.9,489.1 656.8,487.5 657.3,484.8 655.8,483.6 654.4,483.1 654.5,482.7 656.2,483.1 660.8,483.1 663.7,482.5 665.8,481.7 669.8,483.2 674.3,483.6 676.6,480.1 677.1,477.4ZM671.7,473.2 672.8,474.2 674.1,476.9 674.8,479.2 674.6,480.1 669.5,479.0 671.1,476.5ZM667.0,472.8 668.3,472.8 669.3,474.2 668.4,476.9 666.9,478.1 665.1,477.1 664.0,475.8 665.6,473.7ZM674.4,389.6 674.4,392.8 691.1,392.8 690.9,389.6ZM674.4,381.6 674.4,384.7 691.1,384.7 690.9,381.6ZM651.9,418.0 633.5,418.2 632.8,422.2 646.2,422.4 640.7,429.0 637.2,434.3 634.6,439.7 633.3,444.5 638.6,444.5 639.7,439.9 641.9,434.8 645.4,429.4 651.1,422.2ZM687.0,418.0 682.8,417.6 679.3,418.8 677.1,420.7 674.9,424.6 673.8,427.9 673.0,431.5 672.7,437.7 673.0,439.9 674.0,442.2 674.9,443.4 676.7,444.5 680.9,444.9 683.9,443.9 687.0,441.0 688.9,437.5 690.7,430.8 691.1,424.6 690.7,422.4 689.8,420.3 689.0,419.3ZM684.4,421.7 685.7,422.8 686.3,424.4 686.3,428.1 685.0,435.0 684.1,437.7 682.6,439.9 680.9,440.8 679.1,440.8 678.0,439.9 677.5,438.3 677.5,434.8 678.7,427.1 679.8,424.0 681.5,422.1 683.5,421.5ZM667.0,418.2 664.8,417.6 662.4,417.6 659.6,418.4 657.8,419.5 656.5,420.9 654.5,424.4 652.6,431.2 652.2,433.9 652.2,438.1 653.2,441.6 654.6,443.6 656.3,444.5 660.3,444.9 662.2,444.5 664.0,443.6 666.4,441.2 668.3,437.9 670.1,431.5 670.6,425.2 670.3,422.6 669.5,420.7 667.9,418.8ZM664.0,421.7 665.3,422.8 665.9,424.8 665.9,427.7 664.6,434.8 663.3,438.3 661.6,440.3 660.3,440.8 658.7,440.8 657.6,439.9 657.0,438.7 656.8,437.0 657.2,432.9 658.3,426.9 659.6,423.6 660.5,422.4 662.0,421.7Z"/>
</svg>
</body></html>
